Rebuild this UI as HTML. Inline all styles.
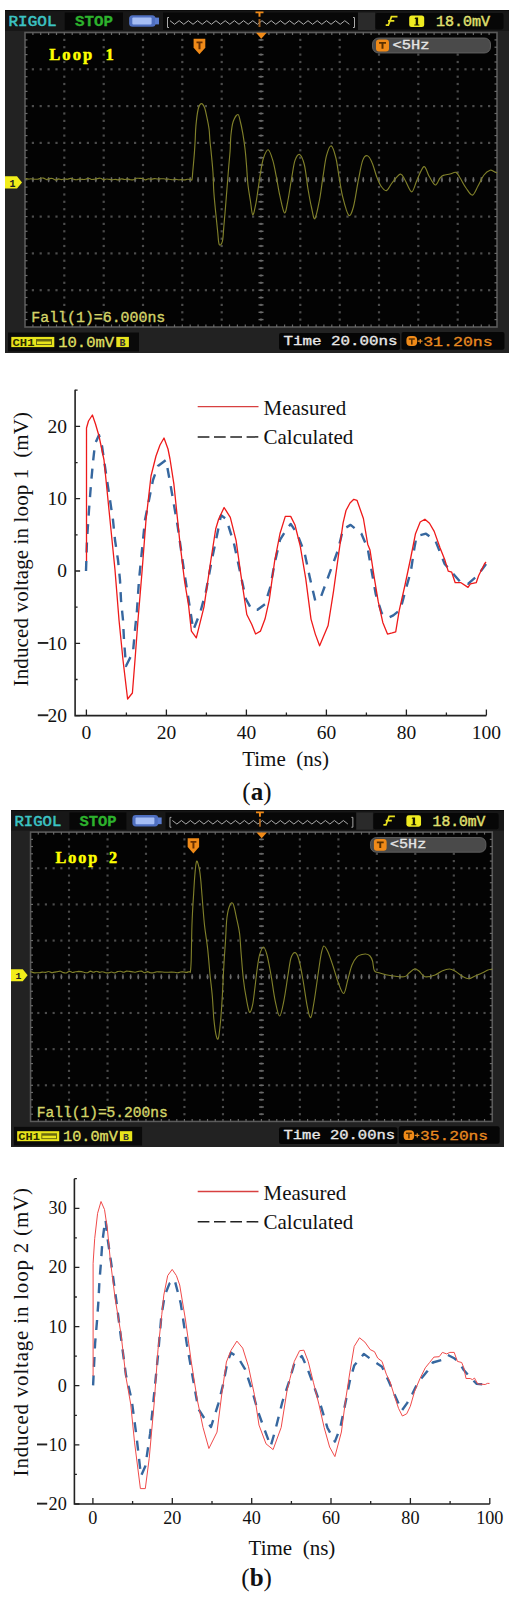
<!DOCTYPE html><html><head><meta charset="utf-8"><style>html,body{margin:0;padding:0;background:#fff;}body{width:514px;height:1601px;position:relative;overflow:hidden;font-family:"Liberation Serif",serif;}</style></head><body><svg style="position:absolute;left:5px;top:10px" width="504" height="343" viewBox="0 0 504 343" preserveAspectRatio="none"><rect x="0" y="0" width="504" height="343" fill="#222"/><rect x="0" y="0" width="504" height="1.5" fill="#0c0c0c"/><rect x="0" y="1.5" width="504" height="19.5" fill="#171717"/><rect x="59.7" y="2.5" width="58.3" height="17.5" fill="#070707"/><rect x="158" y="2.5" width="195" height="17.5" fill="#080808"/><rect x="353" y="2.5" width="17" height="17.5" fill="#2a2a2a"/><rect x="370.5" y="3" width="128" height="16.5" rx="2" fill="#070707"/><text x="3.5" y="16.3" fill="#3cc4c4" stroke="#3cc4c4" stroke-width="0.5" style="font-family:&quot;Liberation Mono&quot;,monospace;font-weight:normal;font-size:14.5px" textLength="48" lengthAdjust="spacingAndGlyphs">RIGOL</text><text x="70" y="16.3" fill="#2db22d" stroke="#2db22d" stroke-width="0.3" style="font-family:&quot;Liberation Mono&quot;,monospace;font-weight:bold;font-size:14.5px" textLength="38" lengthAdjust="spacingAndGlyphs">STOP</text><rect x="124.1" y="5.2" width="26.5" height="11.6" rx="3.5" fill="#4f6fc0"/><rect x="127.3" y="7.6" width="19.3" height="6.8" rx="1" fill="#a6bef5"/><rect x="150" y="7.6" width="4" height="6.8" fill="#5a7cd0"/><path d="M164,7.5 h-1.5 v10 h1.5 M348,7.5 h1.5 v10 h-1.5" stroke="#aaa" stroke-width="1" fill="none"/><polyline points="165.0,10.7 169.6,14.3 174.2,10.7 178.8,14.3 183.4,10.7 188.0,14.3 192.6,10.7 197.2,14.3 201.8,10.7 206.4,14.3 211.0,10.7 215.6,14.3 220.2,10.7 224.8,14.3 229.4,10.7 234.0,14.3 238.6,10.7 243.2,14.3 247.8,10.7 252.4,14.3 257.0,10.7 261.6,14.3 266.2,10.7 270.8,14.3 275.4,10.7 280.0,14.3 284.6,10.7 289.2,14.3 293.8,10.7 298.4,14.3 303.0,10.7 307.6,14.3 312.2,10.7 316.8,14.3 321.4,10.7 326.0,14.3 330.6,10.7 335.2,14.3 339.8,10.7 344.4,14.3" stroke="#b0b0b0" stroke-width="1" fill="none"/><path d="M250.5,1.5 h8 v1.8 h-3 v3.5 h-2 v-3.5 h-3z" fill="#f08a18"/><rect x="253.5" y="9" width="2" height="8" fill="#c07020" opacity="0.8"/><path d="M392.5,6.6 h-6 l-3.2,8.6 h-2.6 M383,10.8 h6.3" stroke="#e8e020" stroke-width="1.8" fill="none"/><rect x="404.2" y="5.4" width="15" height="11.7" rx="2.5" fill="#f0ec20"/><path d="M410.3,7.6 h2.8 v7 h1.2 v1 h-5 v-1 h1.4 v-5.6 h-1.2z" fill="#1a1a00"/><text x="431" y="16" fill="#e0e070" stroke="#e0e070" stroke-width="0.4" style="font-family:&quot;Liberation Mono&quot;,monospace;font-weight:normal;font-size:14px" textLength="54" lengthAdjust="spacingAndGlyphs">18.0mV</text><rect x="20.0" y="22.5" width="472.0" height="294.5" fill="#030303" stroke="#5a5a5a" stroke-width="1.6"/><g fill="#4c4c4c"><rect x="26.8" y="58.2" width="2.2" height="2.2"/><rect x="34.6" y="58.2" width="2.2" height="2.2"/><rect x="42.5" y="58.2" width="2.2" height="2.2"/><rect x="50.4" y="58.2" width="2.2" height="2.2"/><rect x="58.2" y="58.2" width="2.2" height="2.2"/><rect x="66.1" y="58.2" width="2.2" height="2.2"/><rect x="74.0" y="58.2" width="2.2" height="2.2"/><rect x="81.8" y="58.2" width="2.2" height="2.2"/><rect x="89.7" y="58.2" width="2.2" height="2.2"/><rect x="97.6" y="58.2" width="2.2" height="2.2"/><rect x="105.4" y="58.2" width="2.2" height="2.2"/><rect x="113.3" y="58.2" width="2.2" height="2.2"/><rect x="121.2" y="58.2" width="2.2" height="2.2"/><rect x="129.0" y="58.2" width="2.2" height="2.2"/><rect x="136.9" y="58.2" width="2.2" height="2.2"/><rect x="144.8" y="58.2" width="2.2" height="2.2"/><rect x="152.6" y="58.2" width="2.2" height="2.2"/><rect x="160.5" y="58.2" width="2.2" height="2.2"/><rect x="168.4" y="58.2" width="2.2" height="2.2"/><rect x="176.2" y="58.2" width="2.2" height="2.2"/><rect x="184.1" y="58.2" width="2.2" height="2.2"/><rect x="192.0" y="58.2" width="2.2" height="2.2"/><rect x="199.8" y="58.2" width="2.2" height="2.2"/><rect x="207.7" y="58.2" width="2.2" height="2.2"/><rect x="215.6" y="58.2" width="2.2" height="2.2"/><rect x="223.4" y="58.2" width="2.2" height="2.2"/><rect x="231.3" y="58.2" width="2.2" height="2.2"/><rect x="239.2" y="58.2" width="2.2" height="2.2"/><rect x="247.0" y="58.2" width="2.2" height="2.2"/><rect x="254.9" y="58.2" width="2.2" height="2.2"/><rect x="262.8" y="58.2" width="2.2" height="2.2"/><rect x="270.6" y="58.2" width="2.2" height="2.2"/><rect x="278.5" y="58.2" width="2.2" height="2.2"/><rect x="286.4" y="58.2" width="2.2" height="2.2"/><rect x="294.2" y="58.2" width="2.2" height="2.2"/><rect x="302.1" y="58.2" width="2.2" height="2.2"/><rect x="310.0" y="58.2" width="2.2" height="2.2"/><rect x="317.8" y="58.2" width="2.2" height="2.2"/><rect x="325.7" y="58.2" width="2.2" height="2.2"/><rect x="333.6" y="58.2" width="2.2" height="2.2"/><rect x="341.4" y="58.2" width="2.2" height="2.2"/><rect x="349.3" y="58.2" width="2.2" height="2.2"/><rect x="357.2" y="58.2" width="2.2" height="2.2"/><rect x="365.0" y="58.2" width="2.2" height="2.2"/><rect x="372.9" y="58.2" width="2.2" height="2.2"/><rect x="380.8" y="58.2" width="2.2" height="2.2"/><rect x="388.6" y="58.2" width="2.2" height="2.2"/><rect x="396.5" y="58.2" width="2.2" height="2.2"/><rect x="404.4" y="58.2" width="2.2" height="2.2"/><rect x="412.2" y="58.2" width="2.2" height="2.2"/><rect x="420.1" y="58.2" width="2.2" height="2.2"/><rect x="428.0" y="58.2" width="2.2" height="2.2"/><rect x="435.8" y="58.2" width="2.2" height="2.2"/><rect x="443.7" y="58.2" width="2.2" height="2.2"/><rect x="451.6" y="58.2" width="2.2" height="2.2"/><rect x="459.4" y="58.2" width="2.2" height="2.2"/><rect x="467.3" y="58.2" width="2.2" height="2.2"/><rect x="475.2" y="58.2" width="2.2" height="2.2"/><rect x="483.0" y="58.2" width="2.2" height="2.2"/><rect x="26.8" y="95.0" width="2.2" height="2.2"/><rect x="34.6" y="95.0" width="2.2" height="2.2"/><rect x="42.5" y="95.0" width="2.2" height="2.2"/><rect x="50.4" y="95.0" width="2.2" height="2.2"/><rect x="58.2" y="95.0" width="2.2" height="2.2"/><rect x="66.1" y="95.0" width="2.2" height="2.2"/><rect x="74.0" y="95.0" width="2.2" height="2.2"/><rect x="81.8" y="95.0" width="2.2" height="2.2"/><rect x="89.7" y="95.0" width="2.2" height="2.2"/><rect x="97.6" y="95.0" width="2.2" height="2.2"/><rect x="105.4" y="95.0" width="2.2" height="2.2"/><rect x="113.3" y="95.0" width="2.2" height="2.2"/><rect x="121.2" y="95.0" width="2.2" height="2.2"/><rect x="129.0" y="95.0" width="2.2" height="2.2"/><rect x="136.9" y="95.0" width="2.2" height="2.2"/><rect x="144.8" y="95.0" width="2.2" height="2.2"/><rect x="152.6" y="95.0" width="2.2" height="2.2"/><rect x="160.5" y="95.0" width="2.2" height="2.2"/><rect x="168.4" y="95.0" width="2.2" height="2.2"/><rect x="176.2" y="95.0" width="2.2" height="2.2"/><rect x="184.1" y="95.0" width="2.2" height="2.2"/><rect x="192.0" y="95.0" width="2.2" height="2.2"/><rect x="199.8" y="95.0" width="2.2" height="2.2"/><rect x="207.7" y="95.0" width="2.2" height="2.2"/><rect x="215.6" y="95.0" width="2.2" height="2.2"/><rect x="223.4" y="95.0" width="2.2" height="2.2"/><rect x="231.3" y="95.0" width="2.2" height="2.2"/><rect x="239.2" y="95.0" width="2.2" height="2.2"/><rect x="247.0" y="95.0" width="2.2" height="2.2"/><rect x="254.9" y="95.0" width="2.2" height="2.2"/><rect x="262.8" y="95.0" width="2.2" height="2.2"/><rect x="270.6" y="95.0" width="2.2" height="2.2"/><rect x="278.5" y="95.0" width="2.2" height="2.2"/><rect x="286.4" y="95.0" width="2.2" height="2.2"/><rect x="294.2" y="95.0" width="2.2" height="2.2"/><rect x="302.1" y="95.0" width="2.2" height="2.2"/><rect x="310.0" y="95.0" width="2.2" height="2.2"/><rect x="317.8" y="95.0" width="2.2" height="2.2"/><rect x="325.7" y="95.0" width="2.2" height="2.2"/><rect x="333.6" y="95.0" width="2.2" height="2.2"/><rect x="341.4" y="95.0" width="2.2" height="2.2"/><rect x="349.3" y="95.0" width="2.2" height="2.2"/><rect x="357.2" y="95.0" width="2.2" height="2.2"/><rect x="365.0" y="95.0" width="2.2" height="2.2"/><rect x="372.9" y="95.0" width="2.2" height="2.2"/><rect x="380.8" y="95.0" width="2.2" height="2.2"/><rect x="388.6" y="95.0" width="2.2" height="2.2"/><rect x="396.5" y="95.0" width="2.2" height="2.2"/><rect x="404.4" y="95.0" width="2.2" height="2.2"/><rect x="412.2" y="95.0" width="2.2" height="2.2"/><rect x="420.1" y="95.0" width="2.2" height="2.2"/><rect x="428.0" y="95.0" width="2.2" height="2.2"/><rect x="435.8" y="95.0" width="2.2" height="2.2"/><rect x="443.7" y="95.0" width="2.2" height="2.2"/><rect x="451.6" y="95.0" width="2.2" height="2.2"/><rect x="459.4" y="95.0" width="2.2" height="2.2"/><rect x="467.3" y="95.0" width="2.2" height="2.2"/><rect x="475.2" y="95.0" width="2.2" height="2.2"/><rect x="483.0" y="95.0" width="2.2" height="2.2"/><rect x="26.8" y="131.8" width="2.2" height="2.2"/><rect x="34.6" y="131.8" width="2.2" height="2.2"/><rect x="42.5" y="131.8" width="2.2" height="2.2"/><rect x="50.4" y="131.8" width="2.2" height="2.2"/><rect x="58.2" y="131.8" width="2.2" height="2.2"/><rect x="66.1" y="131.8" width="2.2" height="2.2"/><rect x="74.0" y="131.8" width="2.2" height="2.2"/><rect x="81.8" y="131.8" width="2.2" height="2.2"/><rect x="89.7" y="131.8" width="2.2" height="2.2"/><rect x="97.6" y="131.8" width="2.2" height="2.2"/><rect x="105.4" y="131.8" width="2.2" height="2.2"/><rect x="113.3" y="131.8" width="2.2" height="2.2"/><rect x="121.2" y="131.8" width="2.2" height="2.2"/><rect x="129.0" y="131.8" width="2.2" height="2.2"/><rect x="136.9" y="131.8" width="2.2" height="2.2"/><rect x="144.8" y="131.8" width="2.2" height="2.2"/><rect x="152.6" y="131.8" width="2.2" height="2.2"/><rect x="160.5" y="131.8" width="2.2" height="2.2"/><rect x="168.4" y="131.8" width="2.2" height="2.2"/><rect x="176.2" y="131.8" width="2.2" height="2.2"/><rect x="184.1" y="131.8" width="2.2" height="2.2"/><rect x="192.0" y="131.8" width="2.2" height="2.2"/><rect x="199.8" y="131.8" width="2.2" height="2.2"/><rect x="207.7" y="131.8" width="2.2" height="2.2"/><rect x="215.6" y="131.8" width="2.2" height="2.2"/><rect x="223.4" y="131.8" width="2.2" height="2.2"/><rect x="231.3" y="131.8" width="2.2" height="2.2"/><rect x="239.2" y="131.8" width="2.2" height="2.2"/><rect x="247.0" y="131.8" width="2.2" height="2.2"/><rect x="254.9" y="131.8" width="2.2" height="2.2"/><rect x="262.8" y="131.8" width="2.2" height="2.2"/><rect x="270.6" y="131.8" width="2.2" height="2.2"/><rect x="278.5" y="131.8" width="2.2" height="2.2"/><rect x="286.4" y="131.8" width="2.2" height="2.2"/><rect x="294.2" y="131.8" width="2.2" height="2.2"/><rect x="302.1" y="131.8" width="2.2" height="2.2"/><rect x="310.0" y="131.8" width="2.2" height="2.2"/><rect x="317.8" y="131.8" width="2.2" height="2.2"/><rect x="325.7" y="131.8" width="2.2" height="2.2"/><rect x="333.6" y="131.8" width="2.2" height="2.2"/><rect x="341.4" y="131.8" width="2.2" height="2.2"/><rect x="349.3" y="131.8" width="2.2" height="2.2"/><rect x="357.2" y="131.8" width="2.2" height="2.2"/><rect x="365.0" y="131.8" width="2.2" height="2.2"/><rect x="372.9" y="131.8" width="2.2" height="2.2"/><rect x="380.8" y="131.8" width="2.2" height="2.2"/><rect x="388.6" y="131.8" width="2.2" height="2.2"/><rect x="396.5" y="131.8" width="2.2" height="2.2"/><rect x="404.4" y="131.8" width="2.2" height="2.2"/><rect x="412.2" y="131.8" width="2.2" height="2.2"/><rect x="420.1" y="131.8" width="2.2" height="2.2"/><rect x="428.0" y="131.8" width="2.2" height="2.2"/><rect x="435.8" y="131.8" width="2.2" height="2.2"/><rect x="443.7" y="131.8" width="2.2" height="2.2"/><rect x="451.6" y="131.8" width="2.2" height="2.2"/><rect x="459.4" y="131.8" width="2.2" height="2.2"/><rect x="467.3" y="131.8" width="2.2" height="2.2"/><rect x="475.2" y="131.8" width="2.2" height="2.2"/><rect x="483.0" y="131.8" width="2.2" height="2.2"/><rect x="26.8" y="168.7" width="2.2" height="2.2"/><rect x="34.6" y="168.7" width="2.2" height="2.2"/><rect x="42.5" y="168.7" width="2.2" height="2.2"/><rect x="50.4" y="168.7" width="2.2" height="2.2"/><rect x="58.2" y="168.7" width="2.2" height="2.2"/><rect x="66.1" y="168.7" width="2.2" height="2.2"/><rect x="74.0" y="168.7" width="2.2" height="2.2"/><rect x="81.8" y="168.7" width="2.2" height="2.2"/><rect x="89.7" y="168.7" width="2.2" height="2.2"/><rect x="97.6" y="168.7" width="2.2" height="2.2"/><rect x="105.4" y="168.7" width="2.2" height="2.2"/><rect x="113.3" y="168.7" width="2.2" height="2.2"/><rect x="121.2" y="168.7" width="2.2" height="2.2"/><rect x="129.0" y="168.7" width="2.2" height="2.2"/><rect x="136.9" y="168.7" width="2.2" height="2.2"/><rect x="144.8" y="168.7" width="2.2" height="2.2"/><rect x="152.6" y="168.7" width="2.2" height="2.2"/><rect x="160.5" y="168.7" width="2.2" height="2.2"/><rect x="168.4" y="168.7" width="2.2" height="2.2"/><rect x="176.2" y="168.7" width="2.2" height="2.2"/><rect x="184.1" y="168.7" width="2.2" height="2.2"/><rect x="192.0" y="168.7" width="2.2" height="2.2"/><rect x="199.8" y="168.7" width="2.2" height="2.2"/><rect x="207.7" y="168.7" width="2.2" height="2.2"/><rect x="215.6" y="168.7" width="2.2" height="2.2"/><rect x="223.4" y="168.7" width="2.2" height="2.2"/><rect x="231.3" y="168.7" width="2.2" height="2.2"/><rect x="239.2" y="168.7" width="2.2" height="2.2"/><rect x="247.0" y="168.7" width="2.2" height="2.2"/><rect x="254.9" y="168.7" width="2.2" height="2.2"/><rect x="262.8" y="168.7" width="2.2" height="2.2"/><rect x="270.6" y="168.7" width="2.2" height="2.2"/><rect x="278.5" y="168.7" width="2.2" height="2.2"/><rect x="286.4" y="168.7" width="2.2" height="2.2"/><rect x="294.2" y="168.7" width="2.2" height="2.2"/><rect x="302.1" y="168.7" width="2.2" height="2.2"/><rect x="310.0" y="168.7" width="2.2" height="2.2"/><rect x="317.8" y="168.7" width="2.2" height="2.2"/><rect x="325.7" y="168.7" width="2.2" height="2.2"/><rect x="333.6" y="168.7" width="2.2" height="2.2"/><rect x="341.4" y="168.7" width="2.2" height="2.2"/><rect x="349.3" y="168.7" width="2.2" height="2.2"/><rect x="357.2" y="168.7" width="2.2" height="2.2"/><rect x="365.0" y="168.7" width="2.2" height="2.2"/><rect x="372.9" y="168.7" width="2.2" height="2.2"/><rect x="380.8" y="168.7" width="2.2" height="2.2"/><rect x="388.6" y="168.7" width="2.2" height="2.2"/><rect x="396.5" y="168.7" width="2.2" height="2.2"/><rect x="404.4" y="168.7" width="2.2" height="2.2"/><rect x="412.2" y="168.7" width="2.2" height="2.2"/><rect x="420.1" y="168.7" width="2.2" height="2.2"/><rect x="428.0" y="168.7" width="2.2" height="2.2"/><rect x="435.8" y="168.7" width="2.2" height="2.2"/><rect x="443.7" y="168.7" width="2.2" height="2.2"/><rect x="451.6" y="168.7" width="2.2" height="2.2"/><rect x="459.4" y="168.7" width="2.2" height="2.2"/><rect x="467.3" y="168.7" width="2.2" height="2.2"/><rect x="475.2" y="168.7" width="2.2" height="2.2"/><rect x="483.0" y="168.7" width="2.2" height="2.2"/><rect x="26.8" y="205.5" width="2.2" height="2.2"/><rect x="34.6" y="205.5" width="2.2" height="2.2"/><rect x="42.5" y="205.5" width="2.2" height="2.2"/><rect x="50.4" y="205.5" width="2.2" height="2.2"/><rect x="58.2" y="205.5" width="2.2" height="2.2"/><rect x="66.1" y="205.5" width="2.2" height="2.2"/><rect x="74.0" y="205.5" width="2.2" height="2.2"/><rect x="81.8" y="205.5" width="2.2" height="2.2"/><rect x="89.7" y="205.5" width="2.2" height="2.2"/><rect x="97.6" y="205.5" width="2.2" height="2.2"/><rect x="105.4" y="205.5" width="2.2" height="2.2"/><rect x="113.3" y="205.5" width="2.2" height="2.2"/><rect x="121.2" y="205.5" width="2.2" height="2.2"/><rect x="129.0" y="205.5" width="2.2" height="2.2"/><rect x="136.9" y="205.5" width="2.2" height="2.2"/><rect x="144.8" y="205.5" width="2.2" height="2.2"/><rect x="152.6" y="205.5" width="2.2" height="2.2"/><rect x="160.5" y="205.5" width="2.2" height="2.2"/><rect x="168.4" y="205.5" width="2.2" height="2.2"/><rect x="176.2" y="205.5" width="2.2" height="2.2"/><rect x="184.1" y="205.5" width="2.2" height="2.2"/><rect x="192.0" y="205.5" width="2.2" height="2.2"/><rect x="199.8" y="205.5" width="2.2" height="2.2"/><rect x="207.7" y="205.5" width="2.2" height="2.2"/><rect x="215.6" y="205.5" width="2.2" height="2.2"/><rect x="223.4" y="205.5" width="2.2" height="2.2"/><rect x="231.3" y="205.5" width="2.2" height="2.2"/><rect x="239.2" y="205.5" width="2.2" height="2.2"/><rect x="247.0" y="205.5" width="2.2" height="2.2"/><rect x="254.9" y="205.5" width="2.2" height="2.2"/><rect x="262.8" y="205.5" width="2.2" height="2.2"/><rect x="270.6" y="205.5" width="2.2" height="2.2"/><rect x="278.5" y="205.5" width="2.2" height="2.2"/><rect x="286.4" y="205.5" width="2.2" height="2.2"/><rect x="294.2" y="205.5" width="2.2" height="2.2"/><rect x="302.1" y="205.5" width="2.2" height="2.2"/><rect x="310.0" y="205.5" width="2.2" height="2.2"/><rect x="317.8" y="205.5" width="2.2" height="2.2"/><rect x="325.7" y="205.5" width="2.2" height="2.2"/><rect x="333.6" y="205.5" width="2.2" height="2.2"/><rect x="341.4" y="205.5" width="2.2" height="2.2"/><rect x="349.3" y="205.5" width="2.2" height="2.2"/><rect x="357.2" y="205.5" width="2.2" height="2.2"/><rect x="365.0" y="205.5" width="2.2" height="2.2"/><rect x="372.9" y="205.5" width="2.2" height="2.2"/><rect x="380.8" y="205.5" width="2.2" height="2.2"/><rect x="388.6" y="205.5" width="2.2" height="2.2"/><rect x="396.5" y="205.5" width="2.2" height="2.2"/><rect x="404.4" y="205.5" width="2.2" height="2.2"/><rect x="412.2" y="205.5" width="2.2" height="2.2"/><rect x="420.1" y="205.5" width="2.2" height="2.2"/><rect x="428.0" y="205.5" width="2.2" height="2.2"/><rect x="435.8" y="205.5" width="2.2" height="2.2"/><rect x="443.7" y="205.5" width="2.2" height="2.2"/><rect x="451.6" y="205.5" width="2.2" height="2.2"/><rect x="459.4" y="205.5" width="2.2" height="2.2"/><rect x="467.3" y="205.5" width="2.2" height="2.2"/><rect x="475.2" y="205.5" width="2.2" height="2.2"/><rect x="483.0" y="205.5" width="2.2" height="2.2"/><rect x="26.8" y="242.3" width="2.2" height="2.2"/><rect x="34.6" y="242.3" width="2.2" height="2.2"/><rect x="42.5" y="242.3" width="2.2" height="2.2"/><rect x="50.4" y="242.3" width="2.2" height="2.2"/><rect x="58.2" y="242.3" width="2.2" height="2.2"/><rect x="66.1" y="242.3" width="2.2" height="2.2"/><rect x="74.0" y="242.3" width="2.2" height="2.2"/><rect x="81.8" y="242.3" width="2.2" height="2.2"/><rect x="89.7" y="242.3" width="2.2" height="2.2"/><rect x="97.6" y="242.3" width="2.2" height="2.2"/><rect x="105.4" y="242.3" width="2.2" height="2.2"/><rect x="113.3" y="242.3" width="2.2" height="2.2"/><rect x="121.2" y="242.3" width="2.2" height="2.2"/><rect x="129.0" y="242.3" width="2.2" height="2.2"/><rect x="136.9" y="242.3" width="2.2" height="2.2"/><rect x="144.8" y="242.3" width="2.2" height="2.2"/><rect x="152.6" y="242.3" width="2.2" height="2.2"/><rect x="160.5" y="242.3" width="2.2" height="2.2"/><rect x="168.4" y="242.3" width="2.2" height="2.2"/><rect x="176.2" y="242.3" width="2.2" height="2.2"/><rect x="184.1" y="242.3" width="2.2" height="2.2"/><rect x="192.0" y="242.3" width="2.2" height="2.2"/><rect x="199.8" y="242.3" width="2.2" height="2.2"/><rect x="207.7" y="242.3" width="2.2" height="2.2"/><rect x="215.6" y="242.3" width="2.2" height="2.2"/><rect x="223.4" y="242.3" width="2.2" height="2.2"/><rect x="231.3" y="242.3" width="2.2" height="2.2"/><rect x="239.2" y="242.3" width="2.2" height="2.2"/><rect x="247.0" y="242.3" width="2.2" height="2.2"/><rect x="254.9" y="242.3" width="2.2" height="2.2"/><rect x="262.8" y="242.3" width="2.2" height="2.2"/><rect x="270.6" y="242.3" width="2.2" height="2.2"/><rect x="278.5" y="242.3" width="2.2" height="2.2"/><rect x="286.4" y="242.3" width="2.2" height="2.2"/><rect x="294.2" y="242.3" width="2.2" height="2.2"/><rect x="302.1" y="242.3" width="2.2" height="2.2"/><rect x="310.0" y="242.3" width="2.2" height="2.2"/><rect x="317.8" y="242.3" width="2.2" height="2.2"/><rect x="325.7" y="242.3" width="2.2" height="2.2"/><rect x="333.6" y="242.3" width="2.2" height="2.2"/><rect x="341.4" y="242.3" width="2.2" height="2.2"/><rect x="349.3" y="242.3" width="2.2" height="2.2"/><rect x="357.2" y="242.3" width="2.2" height="2.2"/><rect x="365.0" y="242.3" width="2.2" height="2.2"/><rect x="372.9" y="242.3" width="2.2" height="2.2"/><rect x="380.8" y="242.3" width="2.2" height="2.2"/><rect x="388.6" y="242.3" width="2.2" height="2.2"/><rect x="396.5" y="242.3" width="2.2" height="2.2"/><rect x="404.4" y="242.3" width="2.2" height="2.2"/><rect x="412.2" y="242.3" width="2.2" height="2.2"/><rect x="420.1" y="242.3" width="2.2" height="2.2"/><rect x="428.0" y="242.3" width="2.2" height="2.2"/><rect x="435.8" y="242.3" width="2.2" height="2.2"/><rect x="443.7" y="242.3" width="2.2" height="2.2"/><rect x="451.6" y="242.3" width="2.2" height="2.2"/><rect x="459.4" y="242.3" width="2.2" height="2.2"/><rect x="467.3" y="242.3" width="2.2" height="2.2"/><rect x="475.2" y="242.3" width="2.2" height="2.2"/><rect x="483.0" y="242.3" width="2.2" height="2.2"/><rect x="26.8" y="279.1" width="2.2" height="2.2"/><rect x="34.6" y="279.1" width="2.2" height="2.2"/><rect x="42.5" y="279.1" width="2.2" height="2.2"/><rect x="50.4" y="279.1" width="2.2" height="2.2"/><rect x="58.2" y="279.1" width="2.2" height="2.2"/><rect x="66.1" y="279.1" width="2.2" height="2.2"/><rect x="74.0" y="279.1" width="2.2" height="2.2"/><rect x="81.8" y="279.1" width="2.2" height="2.2"/><rect x="89.7" y="279.1" width="2.2" height="2.2"/><rect x="97.6" y="279.1" width="2.2" height="2.2"/><rect x="105.4" y="279.1" width="2.2" height="2.2"/><rect x="113.3" y="279.1" width="2.2" height="2.2"/><rect x="121.2" y="279.1" width="2.2" height="2.2"/><rect x="129.0" y="279.1" width="2.2" height="2.2"/><rect x="136.9" y="279.1" width="2.2" height="2.2"/><rect x="144.8" y="279.1" width="2.2" height="2.2"/><rect x="152.6" y="279.1" width="2.2" height="2.2"/><rect x="160.5" y="279.1" width="2.2" height="2.2"/><rect x="168.4" y="279.1" width="2.2" height="2.2"/><rect x="176.2" y="279.1" width="2.2" height="2.2"/><rect x="184.1" y="279.1" width="2.2" height="2.2"/><rect x="192.0" y="279.1" width="2.2" height="2.2"/><rect x="199.8" y="279.1" width="2.2" height="2.2"/><rect x="207.7" y="279.1" width="2.2" height="2.2"/><rect x="215.6" y="279.1" width="2.2" height="2.2"/><rect x="223.4" y="279.1" width="2.2" height="2.2"/><rect x="231.3" y="279.1" width="2.2" height="2.2"/><rect x="239.2" y="279.1" width="2.2" height="2.2"/><rect x="247.0" y="279.1" width="2.2" height="2.2"/><rect x="254.9" y="279.1" width="2.2" height="2.2"/><rect x="262.8" y="279.1" width="2.2" height="2.2"/><rect x="270.6" y="279.1" width="2.2" height="2.2"/><rect x="278.5" y="279.1" width="2.2" height="2.2"/><rect x="286.4" y="279.1" width="2.2" height="2.2"/><rect x="294.2" y="279.1" width="2.2" height="2.2"/><rect x="302.1" y="279.1" width="2.2" height="2.2"/><rect x="310.0" y="279.1" width="2.2" height="2.2"/><rect x="317.8" y="279.1" width="2.2" height="2.2"/><rect x="325.7" y="279.1" width="2.2" height="2.2"/><rect x="333.6" y="279.1" width="2.2" height="2.2"/><rect x="341.4" y="279.1" width="2.2" height="2.2"/><rect x="349.3" y="279.1" width="2.2" height="2.2"/><rect x="357.2" y="279.1" width="2.2" height="2.2"/><rect x="365.0" y="279.1" width="2.2" height="2.2"/><rect x="372.9" y="279.1" width="2.2" height="2.2"/><rect x="380.8" y="279.1" width="2.2" height="2.2"/><rect x="388.6" y="279.1" width="2.2" height="2.2"/><rect x="396.5" y="279.1" width="2.2" height="2.2"/><rect x="404.4" y="279.1" width="2.2" height="2.2"/><rect x="412.2" y="279.1" width="2.2" height="2.2"/><rect x="420.1" y="279.1" width="2.2" height="2.2"/><rect x="428.0" y="279.1" width="2.2" height="2.2"/><rect x="435.8" y="279.1" width="2.2" height="2.2"/><rect x="443.7" y="279.1" width="2.2" height="2.2"/><rect x="451.6" y="279.1" width="2.2" height="2.2"/><rect x="459.4" y="279.1" width="2.2" height="2.2"/><rect x="467.3" y="279.1" width="2.2" height="2.2"/><rect x="475.2" y="279.1" width="2.2" height="2.2"/><rect x="483.0" y="279.1" width="2.2" height="2.2"/><rect x="58.2" y="28.8" width="2.2" height="2.2"/><rect x="58.2" y="36.1" width="2.2" height="2.2"/><rect x="58.2" y="43.5" width="2.2" height="2.2"/><rect x="58.2" y="50.9" width="2.2" height="2.2"/><rect x="58.2" y="65.6" width="2.2" height="2.2"/><rect x="58.2" y="72.9" width="2.2" height="2.2"/><rect x="58.2" y="80.3" width="2.2" height="2.2"/><rect x="58.2" y="87.7" width="2.2" height="2.2"/><rect x="58.2" y="102.4" width="2.2" height="2.2"/><rect x="58.2" y="109.8" width="2.2" height="2.2"/><rect x="58.2" y="117.1" width="2.2" height="2.2"/><rect x="58.2" y="124.5" width="2.2" height="2.2"/><rect x="58.2" y="139.2" width="2.2" height="2.2"/><rect x="58.2" y="146.6" width="2.2" height="2.2"/><rect x="58.2" y="153.9" width="2.2" height="2.2"/><rect x="58.2" y="161.3" width="2.2" height="2.2"/><rect x="58.2" y="176.0" width="2.2" height="2.2"/><rect x="58.2" y="183.4" width="2.2" height="2.2"/><rect x="58.2" y="190.7" width="2.2" height="2.2"/><rect x="58.2" y="198.1" width="2.2" height="2.2"/><rect x="58.2" y="212.8" width="2.2" height="2.2"/><rect x="58.2" y="220.2" width="2.2" height="2.2"/><rect x="58.2" y="227.6" width="2.2" height="2.2"/><rect x="58.2" y="234.9" width="2.2" height="2.2"/><rect x="58.2" y="249.6" width="2.2" height="2.2"/><rect x="58.2" y="257.0" width="2.2" height="2.2"/><rect x="58.2" y="264.4" width="2.2" height="2.2"/><rect x="58.2" y="271.7" width="2.2" height="2.2"/><rect x="58.2" y="286.4" width="2.2" height="2.2"/><rect x="58.2" y="293.8" width="2.2" height="2.2"/><rect x="58.2" y="301.2" width="2.2" height="2.2"/><rect x="58.2" y="308.5" width="2.2" height="2.2"/><rect x="97.6" y="28.8" width="2.2" height="2.2"/><rect x="97.6" y="36.1" width="2.2" height="2.2"/><rect x="97.6" y="43.5" width="2.2" height="2.2"/><rect x="97.6" y="50.9" width="2.2" height="2.2"/><rect x="97.6" y="65.6" width="2.2" height="2.2"/><rect x="97.6" y="72.9" width="2.2" height="2.2"/><rect x="97.6" y="80.3" width="2.2" height="2.2"/><rect x="97.6" y="87.7" width="2.2" height="2.2"/><rect x="97.6" y="102.4" width="2.2" height="2.2"/><rect x="97.6" y="109.8" width="2.2" height="2.2"/><rect x="97.6" y="117.1" width="2.2" height="2.2"/><rect x="97.6" y="124.5" width="2.2" height="2.2"/><rect x="97.6" y="139.2" width="2.2" height="2.2"/><rect x="97.6" y="146.6" width="2.2" height="2.2"/><rect x="97.6" y="153.9" width="2.2" height="2.2"/><rect x="97.6" y="161.3" width="2.2" height="2.2"/><rect x="97.6" y="176.0" width="2.2" height="2.2"/><rect x="97.6" y="183.4" width="2.2" height="2.2"/><rect x="97.6" y="190.7" width="2.2" height="2.2"/><rect x="97.6" y="198.1" width="2.2" height="2.2"/><rect x="97.6" y="212.8" width="2.2" height="2.2"/><rect x="97.6" y="220.2" width="2.2" height="2.2"/><rect x="97.6" y="227.6" width="2.2" height="2.2"/><rect x="97.6" y="234.9" width="2.2" height="2.2"/><rect x="97.6" y="249.6" width="2.2" height="2.2"/><rect x="97.6" y="257.0" width="2.2" height="2.2"/><rect x="97.6" y="264.4" width="2.2" height="2.2"/><rect x="97.6" y="271.7" width="2.2" height="2.2"/><rect x="97.6" y="286.4" width="2.2" height="2.2"/><rect x="97.6" y="293.8" width="2.2" height="2.2"/><rect x="97.6" y="301.2" width="2.2" height="2.2"/><rect x="97.6" y="308.5" width="2.2" height="2.2"/><rect x="136.9" y="28.8" width="2.2" height="2.2"/><rect x="136.9" y="36.1" width="2.2" height="2.2"/><rect x="136.9" y="43.5" width="2.2" height="2.2"/><rect x="136.9" y="50.9" width="2.2" height="2.2"/><rect x="136.9" y="65.6" width="2.2" height="2.2"/><rect x="136.9" y="72.9" width="2.2" height="2.2"/><rect x="136.9" y="80.3" width="2.2" height="2.2"/><rect x="136.9" y="87.7" width="2.2" height="2.2"/><rect x="136.9" y="102.4" width="2.2" height="2.2"/><rect x="136.9" y="109.8" width="2.2" height="2.2"/><rect x="136.9" y="117.1" width="2.2" height="2.2"/><rect x="136.9" y="124.5" width="2.2" height="2.2"/><rect x="136.9" y="139.2" width="2.2" height="2.2"/><rect x="136.9" y="146.6" width="2.2" height="2.2"/><rect x="136.9" y="153.9" width="2.2" height="2.2"/><rect x="136.9" y="161.3" width="2.2" height="2.2"/><rect x="136.9" y="176.0" width="2.2" height="2.2"/><rect x="136.9" y="183.4" width="2.2" height="2.2"/><rect x="136.9" y="190.7" width="2.2" height="2.2"/><rect x="136.9" y="198.1" width="2.2" height="2.2"/><rect x="136.9" y="212.8" width="2.2" height="2.2"/><rect x="136.9" y="220.2" width="2.2" height="2.2"/><rect x="136.9" y="227.6" width="2.2" height="2.2"/><rect x="136.9" y="234.9" width="2.2" height="2.2"/><rect x="136.9" y="249.6" width="2.2" height="2.2"/><rect x="136.9" y="257.0" width="2.2" height="2.2"/><rect x="136.9" y="264.4" width="2.2" height="2.2"/><rect x="136.9" y="271.7" width="2.2" height="2.2"/><rect x="136.9" y="286.4" width="2.2" height="2.2"/><rect x="136.9" y="293.8" width="2.2" height="2.2"/><rect x="136.9" y="301.2" width="2.2" height="2.2"/><rect x="136.9" y="308.5" width="2.2" height="2.2"/><rect x="176.2" y="28.8" width="2.2" height="2.2"/><rect x="176.2" y="36.1" width="2.2" height="2.2"/><rect x="176.2" y="43.5" width="2.2" height="2.2"/><rect x="176.2" y="50.9" width="2.2" height="2.2"/><rect x="176.2" y="65.6" width="2.2" height="2.2"/><rect x="176.2" y="72.9" width="2.2" height="2.2"/><rect x="176.2" y="80.3" width="2.2" height="2.2"/><rect x="176.2" y="87.7" width="2.2" height="2.2"/><rect x="176.2" y="102.4" width="2.2" height="2.2"/><rect x="176.2" y="109.8" width="2.2" height="2.2"/><rect x="176.2" y="117.1" width="2.2" height="2.2"/><rect x="176.2" y="124.5" width="2.2" height="2.2"/><rect x="176.2" y="139.2" width="2.2" height="2.2"/><rect x="176.2" y="146.6" width="2.2" height="2.2"/><rect x="176.2" y="153.9" width="2.2" height="2.2"/><rect x="176.2" y="161.3" width="2.2" height="2.2"/><rect x="176.2" y="176.0" width="2.2" height="2.2"/><rect x="176.2" y="183.4" width="2.2" height="2.2"/><rect x="176.2" y="190.7" width="2.2" height="2.2"/><rect x="176.2" y="198.1" width="2.2" height="2.2"/><rect x="176.2" y="212.8" width="2.2" height="2.2"/><rect x="176.2" y="220.2" width="2.2" height="2.2"/><rect x="176.2" y="227.6" width="2.2" height="2.2"/><rect x="176.2" y="234.9" width="2.2" height="2.2"/><rect x="176.2" y="249.6" width="2.2" height="2.2"/><rect x="176.2" y="257.0" width="2.2" height="2.2"/><rect x="176.2" y="264.4" width="2.2" height="2.2"/><rect x="176.2" y="271.7" width="2.2" height="2.2"/><rect x="176.2" y="286.4" width="2.2" height="2.2"/><rect x="176.2" y="293.8" width="2.2" height="2.2"/><rect x="176.2" y="301.2" width="2.2" height="2.2"/><rect x="176.2" y="308.5" width="2.2" height="2.2"/><rect x="215.6" y="28.8" width="2.2" height="2.2"/><rect x="215.6" y="36.1" width="2.2" height="2.2"/><rect x="215.6" y="43.5" width="2.2" height="2.2"/><rect x="215.6" y="50.9" width="2.2" height="2.2"/><rect x="215.6" y="65.6" width="2.2" height="2.2"/><rect x="215.6" y="72.9" width="2.2" height="2.2"/><rect x="215.6" y="80.3" width="2.2" height="2.2"/><rect x="215.6" y="87.7" width="2.2" height="2.2"/><rect x="215.6" y="102.4" width="2.2" height="2.2"/><rect x="215.6" y="109.8" width="2.2" height="2.2"/><rect x="215.6" y="117.1" width="2.2" height="2.2"/><rect x="215.6" y="124.5" width="2.2" height="2.2"/><rect x="215.6" y="139.2" width="2.2" height="2.2"/><rect x="215.6" y="146.6" width="2.2" height="2.2"/><rect x="215.6" y="153.9" width="2.2" height="2.2"/><rect x="215.6" y="161.3" width="2.2" height="2.2"/><rect x="215.6" y="176.0" width="2.2" height="2.2"/><rect x="215.6" y="183.4" width="2.2" height="2.2"/><rect x="215.6" y="190.7" width="2.2" height="2.2"/><rect x="215.6" y="198.1" width="2.2" height="2.2"/><rect x="215.6" y="212.8" width="2.2" height="2.2"/><rect x="215.6" y="220.2" width="2.2" height="2.2"/><rect x="215.6" y="227.6" width="2.2" height="2.2"/><rect x="215.6" y="234.9" width="2.2" height="2.2"/><rect x="215.6" y="249.6" width="2.2" height="2.2"/><rect x="215.6" y="257.0" width="2.2" height="2.2"/><rect x="215.6" y="264.4" width="2.2" height="2.2"/><rect x="215.6" y="271.7" width="2.2" height="2.2"/><rect x="215.6" y="286.4" width="2.2" height="2.2"/><rect x="215.6" y="293.8" width="2.2" height="2.2"/><rect x="215.6" y="301.2" width="2.2" height="2.2"/><rect x="215.6" y="308.5" width="2.2" height="2.2"/><rect x="254.9" y="28.8" width="2.2" height="2.2"/><rect x="254.9" y="36.1" width="2.2" height="2.2"/><rect x="254.9" y="43.5" width="2.2" height="2.2"/><rect x="254.9" y="50.9" width="2.2" height="2.2"/><rect x="254.9" y="65.6" width="2.2" height="2.2"/><rect x="254.9" y="72.9" width="2.2" height="2.2"/><rect x="254.9" y="80.3" width="2.2" height="2.2"/><rect x="254.9" y="87.7" width="2.2" height="2.2"/><rect x="254.9" y="102.4" width="2.2" height="2.2"/><rect x="254.9" y="109.8" width="2.2" height="2.2"/><rect x="254.9" y="117.1" width="2.2" height="2.2"/><rect x="254.9" y="124.5" width="2.2" height="2.2"/><rect x="254.9" y="139.2" width="2.2" height="2.2"/><rect x="254.9" y="146.6" width="2.2" height="2.2"/><rect x="254.9" y="153.9" width="2.2" height="2.2"/><rect x="254.9" y="161.3" width="2.2" height="2.2"/><rect x="254.9" y="176.0" width="2.2" height="2.2"/><rect x="254.9" y="183.4" width="2.2" height="2.2"/><rect x="254.9" y="190.7" width="2.2" height="2.2"/><rect x="254.9" y="198.1" width="2.2" height="2.2"/><rect x="254.9" y="212.8" width="2.2" height="2.2"/><rect x="254.9" y="220.2" width="2.2" height="2.2"/><rect x="254.9" y="227.6" width="2.2" height="2.2"/><rect x="254.9" y="234.9" width="2.2" height="2.2"/><rect x="254.9" y="249.6" width="2.2" height="2.2"/><rect x="254.9" y="257.0" width="2.2" height="2.2"/><rect x="254.9" y="264.4" width="2.2" height="2.2"/><rect x="254.9" y="271.7" width="2.2" height="2.2"/><rect x="254.9" y="286.4" width="2.2" height="2.2"/><rect x="254.9" y="293.8" width="2.2" height="2.2"/><rect x="254.9" y="301.2" width="2.2" height="2.2"/><rect x="254.9" y="308.5" width="2.2" height="2.2"/><rect x="294.2" y="28.8" width="2.2" height="2.2"/><rect x="294.2" y="36.1" width="2.2" height="2.2"/><rect x="294.2" y="43.5" width="2.2" height="2.2"/><rect x="294.2" y="50.9" width="2.2" height="2.2"/><rect x="294.2" y="65.6" width="2.2" height="2.2"/><rect x="294.2" y="72.9" width="2.2" height="2.2"/><rect x="294.2" y="80.3" width="2.2" height="2.2"/><rect x="294.2" y="87.7" width="2.2" height="2.2"/><rect x="294.2" y="102.4" width="2.2" height="2.2"/><rect x="294.2" y="109.8" width="2.2" height="2.2"/><rect x="294.2" y="117.1" width="2.2" height="2.2"/><rect x="294.2" y="124.5" width="2.2" height="2.2"/><rect x="294.2" y="139.2" width="2.2" height="2.2"/><rect x="294.2" y="146.6" width="2.2" height="2.2"/><rect x="294.2" y="153.9" width="2.2" height="2.2"/><rect x="294.2" y="161.3" width="2.2" height="2.2"/><rect x="294.2" y="176.0" width="2.2" height="2.2"/><rect x="294.2" y="183.4" width="2.2" height="2.2"/><rect x="294.2" y="190.7" width="2.2" height="2.2"/><rect x="294.2" y="198.1" width="2.2" height="2.2"/><rect x="294.2" y="212.8" width="2.2" height="2.2"/><rect x="294.2" y="220.2" width="2.2" height="2.2"/><rect x="294.2" y="227.6" width="2.2" height="2.2"/><rect x="294.2" y="234.9" width="2.2" height="2.2"/><rect x="294.2" y="249.6" width="2.2" height="2.2"/><rect x="294.2" y="257.0" width="2.2" height="2.2"/><rect x="294.2" y="264.4" width="2.2" height="2.2"/><rect x="294.2" y="271.7" width="2.2" height="2.2"/><rect x="294.2" y="286.4" width="2.2" height="2.2"/><rect x="294.2" y="293.8" width="2.2" height="2.2"/><rect x="294.2" y="301.2" width="2.2" height="2.2"/><rect x="294.2" y="308.5" width="2.2" height="2.2"/><rect x="333.6" y="28.8" width="2.2" height="2.2"/><rect x="333.6" y="36.1" width="2.2" height="2.2"/><rect x="333.6" y="43.5" width="2.2" height="2.2"/><rect x="333.6" y="50.9" width="2.2" height="2.2"/><rect x="333.6" y="65.6" width="2.2" height="2.2"/><rect x="333.6" y="72.9" width="2.2" height="2.2"/><rect x="333.6" y="80.3" width="2.2" height="2.2"/><rect x="333.6" y="87.7" width="2.2" height="2.2"/><rect x="333.6" y="102.4" width="2.2" height="2.2"/><rect x="333.6" y="109.8" width="2.2" height="2.2"/><rect x="333.6" y="117.1" width="2.2" height="2.2"/><rect x="333.6" y="124.5" width="2.2" height="2.2"/><rect x="333.6" y="139.2" width="2.2" height="2.2"/><rect x="333.6" y="146.6" width="2.2" height="2.2"/><rect x="333.6" y="153.9" width="2.2" height="2.2"/><rect x="333.6" y="161.3" width="2.2" height="2.2"/><rect x="333.6" y="176.0" width="2.2" height="2.2"/><rect x="333.6" y="183.4" width="2.2" height="2.2"/><rect x="333.6" y="190.7" width="2.2" height="2.2"/><rect x="333.6" y="198.1" width="2.2" height="2.2"/><rect x="333.6" y="212.8" width="2.2" height="2.2"/><rect x="333.6" y="220.2" width="2.2" height="2.2"/><rect x="333.6" y="227.6" width="2.2" height="2.2"/><rect x="333.6" y="234.9" width="2.2" height="2.2"/><rect x="333.6" y="249.6" width="2.2" height="2.2"/><rect x="333.6" y="257.0" width="2.2" height="2.2"/><rect x="333.6" y="264.4" width="2.2" height="2.2"/><rect x="333.6" y="271.7" width="2.2" height="2.2"/><rect x="333.6" y="286.4" width="2.2" height="2.2"/><rect x="333.6" y="293.8" width="2.2" height="2.2"/><rect x="333.6" y="301.2" width="2.2" height="2.2"/><rect x="333.6" y="308.5" width="2.2" height="2.2"/><rect x="372.9" y="28.8" width="2.2" height="2.2"/><rect x="372.9" y="36.1" width="2.2" height="2.2"/><rect x="372.9" y="43.5" width="2.2" height="2.2"/><rect x="372.9" y="50.9" width="2.2" height="2.2"/><rect x="372.9" y="65.6" width="2.2" height="2.2"/><rect x="372.9" y="72.9" width="2.2" height="2.2"/><rect x="372.9" y="80.3" width="2.2" height="2.2"/><rect x="372.9" y="87.7" width="2.2" height="2.2"/><rect x="372.9" y="102.4" width="2.2" height="2.2"/><rect x="372.9" y="109.8" width="2.2" height="2.2"/><rect x="372.9" y="117.1" width="2.2" height="2.2"/><rect x="372.9" y="124.5" width="2.2" height="2.2"/><rect x="372.9" y="139.2" width="2.2" height="2.2"/><rect x="372.9" y="146.6" width="2.2" height="2.2"/><rect x="372.9" y="153.9" width="2.2" height="2.2"/><rect x="372.9" y="161.3" width="2.2" height="2.2"/><rect x="372.9" y="176.0" width="2.2" height="2.2"/><rect x="372.9" y="183.4" width="2.2" height="2.2"/><rect x="372.9" y="190.7" width="2.2" height="2.2"/><rect x="372.9" y="198.1" width="2.2" height="2.2"/><rect x="372.9" y="212.8" width="2.2" height="2.2"/><rect x="372.9" y="220.2" width="2.2" height="2.2"/><rect x="372.9" y="227.6" width="2.2" height="2.2"/><rect x="372.9" y="234.9" width="2.2" height="2.2"/><rect x="372.9" y="249.6" width="2.2" height="2.2"/><rect x="372.9" y="257.0" width="2.2" height="2.2"/><rect x="372.9" y="264.4" width="2.2" height="2.2"/><rect x="372.9" y="271.7" width="2.2" height="2.2"/><rect x="372.9" y="286.4" width="2.2" height="2.2"/><rect x="372.9" y="293.8" width="2.2" height="2.2"/><rect x="372.9" y="301.2" width="2.2" height="2.2"/><rect x="372.9" y="308.5" width="2.2" height="2.2"/><rect x="412.2" y="28.8" width="2.2" height="2.2"/><rect x="412.2" y="36.1" width="2.2" height="2.2"/><rect x="412.2" y="43.5" width="2.2" height="2.2"/><rect x="412.2" y="50.9" width="2.2" height="2.2"/><rect x="412.2" y="65.6" width="2.2" height="2.2"/><rect x="412.2" y="72.9" width="2.2" height="2.2"/><rect x="412.2" y="80.3" width="2.2" height="2.2"/><rect x="412.2" y="87.7" width="2.2" height="2.2"/><rect x="412.2" y="102.4" width="2.2" height="2.2"/><rect x="412.2" y="109.8" width="2.2" height="2.2"/><rect x="412.2" y="117.1" width="2.2" height="2.2"/><rect x="412.2" y="124.5" width="2.2" height="2.2"/><rect x="412.2" y="139.2" width="2.2" height="2.2"/><rect x="412.2" y="146.6" width="2.2" height="2.2"/><rect x="412.2" y="153.9" width="2.2" height="2.2"/><rect x="412.2" y="161.3" width="2.2" height="2.2"/><rect x="412.2" y="176.0" width="2.2" height="2.2"/><rect x="412.2" y="183.4" width="2.2" height="2.2"/><rect x="412.2" y="190.7" width="2.2" height="2.2"/><rect x="412.2" y="198.1" width="2.2" height="2.2"/><rect x="412.2" y="212.8" width="2.2" height="2.2"/><rect x="412.2" y="220.2" width="2.2" height="2.2"/><rect x="412.2" y="227.6" width="2.2" height="2.2"/><rect x="412.2" y="234.9" width="2.2" height="2.2"/><rect x="412.2" y="249.6" width="2.2" height="2.2"/><rect x="412.2" y="257.0" width="2.2" height="2.2"/><rect x="412.2" y="264.4" width="2.2" height="2.2"/><rect x="412.2" y="271.7" width="2.2" height="2.2"/><rect x="412.2" y="286.4" width="2.2" height="2.2"/><rect x="412.2" y="293.8" width="2.2" height="2.2"/><rect x="412.2" y="301.2" width="2.2" height="2.2"/><rect x="412.2" y="308.5" width="2.2" height="2.2"/><rect x="451.6" y="28.8" width="2.2" height="2.2"/><rect x="451.6" y="36.1" width="2.2" height="2.2"/><rect x="451.6" y="43.5" width="2.2" height="2.2"/><rect x="451.6" y="50.9" width="2.2" height="2.2"/><rect x="451.6" y="65.6" width="2.2" height="2.2"/><rect x="451.6" y="72.9" width="2.2" height="2.2"/><rect x="451.6" y="80.3" width="2.2" height="2.2"/><rect x="451.6" y="87.7" width="2.2" height="2.2"/><rect x="451.6" y="102.4" width="2.2" height="2.2"/><rect x="451.6" y="109.8" width="2.2" height="2.2"/><rect x="451.6" y="117.1" width="2.2" height="2.2"/><rect x="451.6" y="124.5" width="2.2" height="2.2"/><rect x="451.6" y="139.2" width="2.2" height="2.2"/><rect x="451.6" y="146.6" width="2.2" height="2.2"/><rect x="451.6" y="153.9" width="2.2" height="2.2"/><rect x="451.6" y="161.3" width="2.2" height="2.2"/><rect x="451.6" y="176.0" width="2.2" height="2.2"/><rect x="451.6" y="183.4" width="2.2" height="2.2"/><rect x="451.6" y="190.7" width="2.2" height="2.2"/><rect x="451.6" y="198.1" width="2.2" height="2.2"/><rect x="451.6" y="212.8" width="2.2" height="2.2"/><rect x="451.6" y="220.2" width="2.2" height="2.2"/><rect x="451.6" y="227.6" width="2.2" height="2.2"/><rect x="451.6" y="234.9" width="2.2" height="2.2"/><rect x="451.6" y="249.6" width="2.2" height="2.2"/><rect x="451.6" y="257.0" width="2.2" height="2.2"/><rect x="451.6" y="264.4" width="2.2" height="2.2"/><rect x="451.6" y="271.7" width="2.2" height="2.2"/><rect x="451.6" y="286.4" width="2.2" height="2.2"/><rect x="451.6" y="293.8" width="2.2" height="2.2"/><rect x="451.6" y="301.2" width="2.2" height="2.2"/><rect x="451.6" y="308.5" width="2.2" height="2.2"/></g><g fill="#6a6a6a"><rect x="253.5" y="29.2" width="5" height="1.4"/><rect x="253.5" y="36.5" width="5" height="1.4"/><rect x="253.5" y="43.9" width="5" height="1.4"/><rect x="253.5" y="51.2" width="5" height="1.4"/><rect x="253.5" y="58.6" width="5" height="1.4"/><rect x="253.5" y="66.0" width="5" height="1.4"/><rect x="253.5" y="73.3" width="5" height="1.4"/><rect x="253.5" y="80.7" width="5" height="1.4"/><rect x="253.5" y="88.1" width="5" height="1.4"/><rect x="253.5" y="95.4" width="5" height="1.4"/><rect x="253.5" y="102.8" width="5" height="1.4"/><rect x="253.5" y="110.1" width="5" height="1.4"/><rect x="253.5" y="117.5" width="5" height="1.4"/><rect x="253.5" y="124.9" width="5" height="1.4"/><rect x="253.5" y="132.2" width="5" height="1.4"/><rect x="253.5" y="139.6" width="5" height="1.4"/><rect x="253.5" y="147.0" width="5" height="1.4"/><rect x="253.5" y="154.3" width="5" height="1.4"/><rect x="253.5" y="161.7" width="5" height="1.4"/><rect x="253.5" y="169.1" width="5" height="1.4"/><rect x="253.5" y="176.4" width="5" height="1.4"/><rect x="253.5" y="183.8" width="5" height="1.4"/><rect x="253.5" y="191.1" width="5" height="1.4"/><rect x="253.5" y="198.5" width="5" height="1.4"/><rect x="253.5" y="205.9" width="5" height="1.4"/><rect x="253.5" y="213.2" width="5" height="1.4"/><rect x="253.5" y="220.6" width="5" height="1.4"/><rect x="253.5" y="228.0" width="5" height="1.4"/><rect x="253.5" y="235.3" width="5" height="1.4"/><rect x="253.5" y="242.7" width="5" height="1.4"/><rect x="253.5" y="250.0" width="5" height="1.4"/><rect x="253.5" y="257.4" width="5" height="1.4"/><rect x="253.5" y="264.8" width="5" height="1.4"/><rect x="253.5" y="272.1" width="5" height="1.4"/><rect x="253.5" y="279.5" width="5" height="1.4"/><rect x="253.5" y="286.9" width="5" height="1.4"/><rect x="253.5" y="294.2" width="5" height="1.4"/><rect x="253.5" y="301.6" width="5" height="1.4"/><rect x="253.5" y="308.9" width="5" height="1.4"/><rect x="27.2" y="167.2" width="1.4" height="5"/><rect x="35.0" y="167.2" width="1.4" height="5"/><rect x="42.9" y="167.2" width="1.4" height="5"/><rect x="50.8" y="167.2" width="1.4" height="5"/><rect x="58.6" y="167.2" width="1.4" height="5"/><rect x="66.5" y="167.2" width="1.4" height="5"/><rect x="74.4" y="167.2" width="1.4" height="5"/><rect x="82.2" y="167.2" width="1.4" height="5"/><rect x="90.1" y="167.2" width="1.4" height="5"/><rect x="98.0" y="167.2" width="1.4" height="5"/><rect x="105.8" y="167.2" width="1.4" height="5"/><rect x="113.7" y="167.2" width="1.4" height="5"/><rect x="121.6" y="167.2" width="1.4" height="5"/><rect x="129.4" y="167.2" width="1.4" height="5"/><rect x="137.3" y="167.2" width="1.4" height="5"/><rect x="145.2" y="167.2" width="1.4" height="5"/><rect x="153.0" y="167.2" width="1.4" height="5"/><rect x="160.9" y="167.2" width="1.4" height="5"/><rect x="168.8" y="167.2" width="1.4" height="5"/><rect x="176.6" y="167.2" width="1.4" height="5"/><rect x="184.5" y="167.2" width="1.4" height="5"/><rect x="192.4" y="167.2" width="1.4" height="5"/><rect x="200.2" y="167.2" width="1.4" height="5"/><rect x="208.1" y="167.2" width="1.4" height="5"/><rect x="216.0" y="167.2" width="1.4" height="5"/><rect x="223.8" y="167.2" width="1.4" height="5"/><rect x="231.7" y="167.2" width="1.4" height="5"/><rect x="239.6" y="167.2" width="1.4" height="5"/><rect x="247.4" y="167.2" width="1.4" height="5"/><rect x="255.3" y="167.2" width="1.4" height="5"/><rect x="263.2" y="167.2" width="1.4" height="5"/><rect x="271.0" y="167.2" width="1.4" height="5"/><rect x="278.9" y="167.2" width="1.4" height="5"/><rect x="286.8" y="167.2" width="1.4" height="5"/><rect x="294.6" y="167.2" width="1.4" height="5"/><rect x="302.5" y="167.2" width="1.4" height="5"/><rect x="310.4" y="167.2" width="1.4" height="5"/><rect x="318.2" y="167.2" width="1.4" height="5"/><rect x="326.1" y="167.2" width="1.4" height="5"/><rect x="334.0" y="167.2" width="1.4" height="5"/><rect x="341.8" y="167.2" width="1.4" height="5"/><rect x="349.7" y="167.2" width="1.4" height="5"/><rect x="357.6" y="167.2" width="1.4" height="5"/><rect x="365.4" y="167.2" width="1.4" height="5"/><rect x="373.3" y="167.2" width="1.4" height="5"/><rect x="381.2" y="167.2" width="1.4" height="5"/><rect x="389.0" y="167.2" width="1.4" height="5"/><rect x="396.9" y="167.2" width="1.4" height="5"/><rect x="404.8" y="167.2" width="1.4" height="5"/><rect x="412.6" y="167.2" width="1.4" height="5"/><rect x="420.5" y="167.2" width="1.4" height="5"/><rect x="428.4" y="167.2" width="1.4" height="5"/><rect x="436.2" y="167.2" width="1.4" height="5"/><rect x="444.1" y="167.2" width="1.4" height="5"/><rect x="452.0" y="167.2" width="1.4" height="5"/><rect x="459.8" y="167.2" width="1.4" height="5"/><rect x="467.7" y="167.2" width="1.4" height="5"/><rect x="475.6" y="167.2" width="1.4" height="5"/><rect x="483.4" y="167.2" width="1.4" height="5"/><rect x="27.3" y="22.5" width="1.2" height="2.5"/><rect x="27.3" y="314.5" width="1.2" height="2.5"/><rect x="35.1" y="22.5" width="1.2" height="2.5"/><rect x="35.1" y="314.5" width="1.2" height="2.5"/><rect x="43.0" y="22.5" width="1.2" height="2.5"/><rect x="43.0" y="314.5" width="1.2" height="2.5"/><rect x="50.9" y="22.5" width="1.2" height="2.5"/><rect x="50.9" y="314.5" width="1.2" height="2.5"/><rect x="58.7" y="22.5" width="1.2" height="2.5"/><rect x="58.7" y="314.5" width="1.2" height="2.5"/><rect x="66.6" y="22.5" width="1.2" height="2.5"/><rect x="66.6" y="314.5" width="1.2" height="2.5"/><rect x="74.5" y="22.5" width="1.2" height="2.5"/><rect x="74.5" y="314.5" width="1.2" height="2.5"/><rect x="82.3" y="22.5" width="1.2" height="2.5"/><rect x="82.3" y="314.5" width="1.2" height="2.5"/><rect x="90.2" y="22.5" width="1.2" height="2.5"/><rect x="90.2" y="314.5" width="1.2" height="2.5"/><rect x="98.1" y="22.5" width="1.2" height="2.5"/><rect x="98.1" y="314.5" width="1.2" height="2.5"/><rect x="105.9" y="22.5" width="1.2" height="2.5"/><rect x="105.9" y="314.5" width="1.2" height="2.5"/><rect x="113.8" y="22.5" width="1.2" height="2.5"/><rect x="113.8" y="314.5" width="1.2" height="2.5"/><rect x="121.7" y="22.5" width="1.2" height="2.5"/><rect x="121.7" y="314.5" width="1.2" height="2.5"/><rect x="129.5" y="22.5" width="1.2" height="2.5"/><rect x="129.5" y="314.5" width="1.2" height="2.5"/><rect x="137.4" y="22.5" width="1.2" height="2.5"/><rect x="137.4" y="314.5" width="1.2" height="2.5"/><rect x="145.3" y="22.5" width="1.2" height="2.5"/><rect x="145.3" y="314.5" width="1.2" height="2.5"/><rect x="153.1" y="22.5" width="1.2" height="2.5"/><rect x="153.1" y="314.5" width="1.2" height="2.5"/><rect x="161.0" y="22.5" width="1.2" height="2.5"/><rect x="161.0" y="314.5" width="1.2" height="2.5"/><rect x="168.9" y="22.5" width="1.2" height="2.5"/><rect x="168.9" y="314.5" width="1.2" height="2.5"/><rect x="176.7" y="22.5" width="1.2" height="2.5"/><rect x="176.7" y="314.5" width="1.2" height="2.5"/><rect x="184.6" y="22.5" width="1.2" height="2.5"/><rect x="184.6" y="314.5" width="1.2" height="2.5"/><rect x="192.5" y="22.5" width="1.2" height="2.5"/><rect x="192.5" y="314.5" width="1.2" height="2.5"/><rect x="200.3" y="22.5" width="1.2" height="2.5"/><rect x="200.3" y="314.5" width="1.2" height="2.5"/><rect x="208.2" y="22.5" width="1.2" height="2.5"/><rect x="208.2" y="314.5" width="1.2" height="2.5"/><rect x="216.1" y="22.5" width="1.2" height="2.5"/><rect x="216.1" y="314.5" width="1.2" height="2.5"/><rect x="223.9" y="22.5" width="1.2" height="2.5"/><rect x="223.9" y="314.5" width="1.2" height="2.5"/><rect x="231.8" y="22.5" width="1.2" height="2.5"/><rect x="231.8" y="314.5" width="1.2" height="2.5"/><rect x="239.7" y="22.5" width="1.2" height="2.5"/><rect x="239.7" y="314.5" width="1.2" height="2.5"/><rect x="247.5" y="22.5" width="1.2" height="2.5"/><rect x="247.5" y="314.5" width="1.2" height="2.5"/><rect x="255.4" y="22.5" width="1.2" height="2.5"/><rect x="255.4" y="314.5" width="1.2" height="2.5"/><rect x="263.3" y="22.5" width="1.2" height="2.5"/><rect x="263.3" y="314.5" width="1.2" height="2.5"/><rect x="271.1" y="22.5" width="1.2" height="2.5"/><rect x="271.1" y="314.5" width="1.2" height="2.5"/><rect x="279.0" y="22.5" width="1.2" height="2.5"/><rect x="279.0" y="314.5" width="1.2" height="2.5"/><rect x="286.9" y="22.5" width="1.2" height="2.5"/><rect x="286.9" y="314.5" width="1.2" height="2.5"/><rect x="294.7" y="22.5" width="1.2" height="2.5"/><rect x="294.7" y="314.5" width="1.2" height="2.5"/><rect x="302.6" y="22.5" width="1.2" height="2.5"/><rect x="302.6" y="314.5" width="1.2" height="2.5"/><rect x="310.5" y="22.5" width="1.2" height="2.5"/><rect x="310.5" y="314.5" width="1.2" height="2.5"/><rect x="318.3" y="22.5" width="1.2" height="2.5"/><rect x="318.3" y="314.5" width="1.2" height="2.5"/><rect x="326.2" y="22.5" width="1.2" height="2.5"/><rect x="326.2" y="314.5" width="1.2" height="2.5"/><rect x="334.1" y="22.5" width="1.2" height="2.5"/><rect x="334.1" y="314.5" width="1.2" height="2.5"/><rect x="341.9" y="22.5" width="1.2" height="2.5"/><rect x="341.9" y="314.5" width="1.2" height="2.5"/><rect x="349.8" y="22.5" width="1.2" height="2.5"/><rect x="349.8" y="314.5" width="1.2" height="2.5"/><rect x="357.7" y="22.5" width="1.2" height="2.5"/><rect x="357.7" y="314.5" width="1.2" height="2.5"/><rect x="365.5" y="22.5" width="1.2" height="2.5"/><rect x="365.5" y="314.5" width="1.2" height="2.5"/><rect x="373.4" y="22.5" width="1.2" height="2.5"/><rect x="373.4" y="314.5" width="1.2" height="2.5"/><rect x="381.3" y="22.5" width="1.2" height="2.5"/><rect x="381.3" y="314.5" width="1.2" height="2.5"/><rect x="389.1" y="22.5" width="1.2" height="2.5"/><rect x="389.1" y="314.5" width="1.2" height="2.5"/><rect x="397.0" y="22.5" width="1.2" height="2.5"/><rect x="397.0" y="314.5" width="1.2" height="2.5"/><rect x="404.9" y="22.5" width="1.2" height="2.5"/><rect x="404.9" y="314.5" width="1.2" height="2.5"/><rect x="412.7" y="22.5" width="1.2" height="2.5"/><rect x="412.7" y="314.5" width="1.2" height="2.5"/><rect x="420.6" y="22.5" width="1.2" height="2.5"/><rect x="420.6" y="314.5" width="1.2" height="2.5"/><rect x="428.5" y="22.5" width="1.2" height="2.5"/><rect x="428.5" y="314.5" width="1.2" height="2.5"/><rect x="436.3" y="22.5" width="1.2" height="2.5"/><rect x="436.3" y="314.5" width="1.2" height="2.5"/><rect x="444.2" y="22.5" width="1.2" height="2.5"/><rect x="444.2" y="314.5" width="1.2" height="2.5"/><rect x="452.1" y="22.5" width="1.2" height="2.5"/><rect x="452.1" y="314.5" width="1.2" height="2.5"/><rect x="459.9" y="22.5" width="1.2" height="2.5"/><rect x="459.9" y="314.5" width="1.2" height="2.5"/><rect x="467.8" y="22.5" width="1.2" height="2.5"/><rect x="467.8" y="314.5" width="1.2" height="2.5"/><rect x="475.7" y="22.5" width="1.2" height="2.5"/><rect x="475.7" y="314.5" width="1.2" height="2.5"/><rect x="483.5" y="22.5" width="1.2" height="2.5"/><rect x="483.5" y="314.5" width="1.2" height="2.5"/><rect x="20.0" y="29.3" width="2.5" height="1.2"/><rect x="489.5" y="29.3" width="2.5" height="1.2"/><rect x="20.0" y="36.6" width="2.5" height="1.2"/><rect x="489.5" y="36.6" width="2.5" height="1.2"/><rect x="20.0" y="44.0" width="2.5" height="1.2"/><rect x="489.5" y="44.0" width="2.5" height="1.2"/><rect x="20.0" y="51.4" width="2.5" height="1.2"/><rect x="489.5" y="51.4" width="2.5" height="1.2"/><rect x="20.0" y="58.7" width="2.5" height="1.2"/><rect x="489.5" y="58.7" width="2.5" height="1.2"/><rect x="20.0" y="66.1" width="2.5" height="1.2"/><rect x="489.5" y="66.1" width="2.5" height="1.2"/><rect x="20.0" y="73.4" width="2.5" height="1.2"/><rect x="489.5" y="73.4" width="2.5" height="1.2"/><rect x="20.0" y="80.8" width="2.5" height="1.2"/><rect x="489.5" y="80.8" width="2.5" height="1.2"/><rect x="20.0" y="88.2" width="2.5" height="1.2"/><rect x="489.5" y="88.2" width="2.5" height="1.2"/><rect x="20.0" y="95.5" width="2.5" height="1.2"/><rect x="489.5" y="95.5" width="2.5" height="1.2"/><rect x="20.0" y="102.9" width="2.5" height="1.2"/><rect x="489.5" y="102.9" width="2.5" height="1.2"/><rect x="20.0" y="110.2" width="2.5" height="1.2"/><rect x="489.5" y="110.2" width="2.5" height="1.2"/><rect x="20.0" y="117.6" width="2.5" height="1.2"/><rect x="489.5" y="117.6" width="2.5" height="1.2"/><rect x="20.0" y="125.0" width="2.5" height="1.2"/><rect x="489.5" y="125.0" width="2.5" height="1.2"/><rect x="20.0" y="132.3" width="2.5" height="1.2"/><rect x="489.5" y="132.3" width="2.5" height="1.2"/><rect x="20.0" y="139.7" width="2.5" height="1.2"/><rect x="489.5" y="139.7" width="2.5" height="1.2"/><rect x="20.0" y="147.1" width="2.5" height="1.2"/><rect x="489.5" y="147.1" width="2.5" height="1.2"/><rect x="20.0" y="154.4" width="2.5" height="1.2"/><rect x="489.5" y="154.4" width="2.5" height="1.2"/><rect x="20.0" y="161.8" width="2.5" height="1.2"/><rect x="489.5" y="161.8" width="2.5" height="1.2"/><rect x="20.0" y="169.2" width="2.5" height="1.2"/><rect x="489.5" y="169.2" width="2.5" height="1.2"/><rect x="20.0" y="176.5" width="2.5" height="1.2"/><rect x="489.5" y="176.5" width="2.5" height="1.2"/><rect x="20.0" y="183.9" width="2.5" height="1.2"/><rect x="489.5" y="183.9" width="2.5" height="1.2"/><rect x="20.0" y="191.2" width="2.5" height="1.2"/><rect x="489.5" y="191.2" width="2.5" height="1.2"/><rect x="20.0" y="198.6" width="2.5" height="1.2"/><rect x="489.5" y="198.6" width="2.5" height="1.2"/><rect x="20.0" y="206.0" width="2.5" height="1.2"/><rect x="489.5" y="206.0" width="2.5" height="1.2"/><rect x="20.0" y="213.3" width="2.5" height="1.2"/><rect x="489.5" y="213.3" width="2.5" height="1.2"/><rect x="20.0" y="220.7" width="2.5" height="1.2"/><rect x="489.5" y="220.7" width="2.5" height="1.2"/><rect x="20.0" y="228.1" width="2.5" height="1.2"/><rect x="489.5" y="228.1" width="2.5" height="1.2"/><rect x="20.0" y="235.4" width="2.5" height="1.2"/><rect x="489.5" y="235.4" width="2.5" height="1.2"/><rect x="20.0" y="242.8" width="2.5" height="1.2"/><rect x="489.5" y="242.8" width="2.5" height="1.2"/><rect x="20.0" y="250.1" width="2.5" height="1.2"/><rect x="489.5" y="250.1" width="2.5" height="1.2"/><rect x="20.0" y="257.5" width="2.5" height="1.2"/><rect x="489.5" y="257.5" width="2.5" height="1.2"/><rect x="20.0" y="264.9" width="2.5" height="1.2"/><rect x="489.5" y="264.9" width="2.5" height="1.2"/><rect x="20.0" y="272.2" width="2.5" height="1.2"/><rect x="489.5" y="272.2" width="2.5" height="1.2"/><rect x="20.0" y="279.6" width="2.5" height="1.2"/><rect x="489.5" y="279.6" width="2.5" height="1.2"/><rect x="20.0" y="286.9" width="2.5" height="1.2"/><rect x="489.5" y="286.9" width="2.5" height="1.2"/><rect x="20.0" y="294.3" width="2.5" height="1.2"/><rect x="489.5" y="294.3" width="2.5" height="1.2"/><rect x="20.0" y="301.7" width="2.5" height="1.2"/><rect x="489.5" y="301.7" width="2.5" height="1.2"/><rect x="20.0" y="309.0" width="2.5" height="1.2"/><rect x="489.5" y="309.0" width="2.5" height="1.2"/></g><rect x="367.5" y="28" width="118" height="15" rx="6" fill="#4a4a4a" stroke="#6a6a6a" stroke-width="0.8"/><rect x="371" y="29.5" width="13" height="12" rx="3" fill="#f08a18"/><path d="M374,32 h7 v1.8 h-2.5 v5 h-2 v-5 h-2.5z" fill="#5a3000"/><text x="387.5" y="39" fill="#e4e4e4" stroke="#e4e4e4" stroke-width="0.35" style="font-family:&quot;Liberation Mono&quot;,monospace;font-weight:normal;font-size:13px" textLength="37" lengthAdjust="spacingAndGlyphs">&lt;5Hz</text><path d="M251,22.8 h10.6 l-5.3,5.9z" fill="#f08a18"/><g transform="translate(0.0,0)"><path d="M188.6,28.7 h11.7 v9 l-5.85,6.6 l-5.85,-6.6z" fill="#f08a18"/><path d="M191.5,31.5 h6 v1.8 h-2 v6 h-2 v-6 h-2z" fill="#6a3000"/></g><text x="44.3" y="50.2" fill="#ffff00" stroke="#ffff00" stroke-width="0.5" style="font-family:&quot;Liberation Serif&quot;,serif;font-weight:bold;font-size:16.5px" textLength="42.8" lengthAdjust="spacing">Loop</text><text x="100.4" y="50.2" fill="#ffff00" stroke="#ffff00" stroke-width="0.5" style="font-family:&quot;Liberation Serif&quot;,serif;font-weight:bold;font-size:16.5px">1</text><path d="M0,166.2 h12 l5,6.2 l-5,6.2 h-12z" fill="#f2ee1a"/><text x="7.5" y="176.6" fill="#222" text-anchor="middle" style="font-family:&quot;Liberation Mono&quot;,monospace;font-weight:bold;font-size:10px">1</text><path d="M20.5,168.5C21.0,168.6 22.5,169.0 23.5,169.1C24.5,169.1 25.5,168.7 26.5,168.8C27.5,168.8 28.5,169.1 29.5,169.2C30.5,169.3 31.5,169.4 32.5,169.2C33.5,169.1 34.5,168.4 35.5,168.2C36.5,168.0 37.5,167.9 38.5,168.1C39.5,168.4 40.5,169.5 41.5,169.6C42.5,169.7 43.5,168.7 44.5,168.6C45.5,168.4 46.5,168.3 47.5,168.5C48.5,168.7 49.5,169.8 50.5,169.9C51.5,170.0 52.5,169.0 53.5,168.9C54.5,168.9 55.5,169.6 56.5,169.6C57.5,169.6 58.5,169.0 59.5,169.0C60.5,168.9 61.5,169.3 62.5,169.3C63.5,169.2 64.5,168.4 65.5,168.4C66.5,168.4 67.5,169.0 68.5,169.2C69.5,169.5 70.5,169.7 71.5,169.7C72.5,169.6 73.5,169.1 74.5,169.0C75.5,169.0 76.5,169.4 77.5,169.4C78.5,169.5 79.5,169.5 80.5,169.3C81.5,169.1 82.5,168.2 83.5,168.2C84.5,168.2 85.5,169.3 86.5,169.5C87.5,169.6 88.5,169.3 89.5,169.2C90.5,169.0 91.5,168.8 92.5,168.6C93.5,168.5 94.5,168.0 95.5,168.2C96.5,168.3 97.5,169.5 98.5,169.7C99.5,169.8 100.5,169.0 101.5,169.0C102.5,168.9 103.5,169.3 104.5,169.4C105.5,169.5 106.5,169.7 107.5,169.7C108.5,169.7 109.5,169.4 110.5,169.4C111.5,169.4 112.5,169.9 113.5,169.8C114.5,169.7 115.5,168.8 116.5,168.8C117.5,168.8 118.5,169.5 119.5,169.5C120.5,169.6 121.5,168.9 122.5,168.9C123.5,168.9 124.5,169.7 125.5,169.8C126.5,169.9 127.5,169.9 128.5,169.7C129.5,169.4 130.5,168.5 131.5,168.3C132.5,168.1 133.5,168.3 134.5,168.3C135.5,168.4 136.5,168.2 137.5,168.5C138.5,168.7 139.5,169.8 140.5,169.8C141.5,169.9 142.5,169.0 143.5,168.9C144.5,168.8 145.5,169.3 146.5,169.2C147.5,169.2 148.5,168.7 149.5,168.6C150.5,168.6 151.5,169.0 152.5,169.0C153.5,169.0 154.5,168.8 155.5,168.8C156.5,168.7 157.5,168.7 158.5,168.7C159.5,168.8 160.5,169.1 161.5,169.2C162.5,169.2 163.5,169.1 164.5,169.2C165.5,169.2 166.5,169.7 167.5,169.7C168.5,169.8 169.5,169.3 170.5,169.3C171.5,169.3 172.5,169.7 173.5,169.8C174.5,169.8 175.5,169.6 176.5,169.6C177.5,169.7 178.5,169.9 179.5,169.9C180.5,169.8 181.5,169.4 182.5,169.3C183.5,169.2 184.7,169.5 185.4,169.5C186.2,169.5 186.6,170.9 187.0,169.5C187.4,168.1 187.4,165.5 187.8,161.3C188.2,157.1 188.9,149.0 189.3,144.1C189.7,139.2 189.8,136.4 190.1,131.7C190.4,127.0 190.4,121.5 190.9,116.1C191.4,110.6 192.3,102.8 193.2,99.0C194.1,95.2 195.2,93.8 196.3,93.6C197.4,93.3 198.6,95.3 199.5,97.5C200.4,99.7 201.0,103.2 201.8,106.8C202.6,110.4 203.6,115.3 204.1,119.2C204.6,123.1 204.5,125.7 204.9,130.1C205.3,134.5 206.0,140.2 206.5,145.7C207.0,151.1 207.6,156.8 208.0,162.8C208.4,168.8 208.3,174.2 208.8,181.5C209.3,188.8 210.4,199.7 211.1,206.4C211.8,213.2 212.2,217.3 212.7,222.0C213.2,226.7 213.4,232.8 214.2,234.4C215.0,236.0 216.6,234.4 217.4,231.3C218.2,228.2 218.4,221.4 218.9,215.7C219.4,210.0 220.0,203.3 220.5,197.1C221.0,190.9 221.5,184.9 222.0,178.4C222.5,171.9 223.1,164.4 223.6,158.2C224.1,152.0 224.7,146.4 225.1,141.0C225.5,135.6 225.4,130.4 225.9,125.5C226.4,120.6 227.0,115.0 228.2,111.5C229.4,108.0 231.7,104.5 232.9,104.5C234.1,104.5 234.5,108.5 235.3,111.5C236.1,114.5 236.8,118.0 237.6,122.4C238.4,126.8 239.2,132.5 239.9,137.9C240.6,143.3 241.0,148.8 241.5,155.0C242.0,161.2 242.3,169.3 243.0,175.3C243.7,181.3 244.6,185.9 245.4,190.8C246.2,195.7 246.8,204.3 247.7,204.8C248.6,205.3 249.9,198.4 250.8,194.0C251.7,189.6 252.4,183.6 253.2,178.4C254.0,173.2 254.6,167.9 255.5,162.8C256.4,157.7 257.2,151.8 258.5,148.0C259.8,144.2 261.6,139.4 263.2,139.8C264.8,140.2 266.4,145.9 267.8,150.4C269.2,154.9 270.1,160.9 271.3,166.7C272.5,172.5 273.4,179.4 274.8,185.4C276.2,191.4 278.1,202.1 279.5,202.9C280.9,203.7 281.8,195.7 283.0,190.0C284.2,184.3 285.3,175.6 286.5,169.0C287.7,162.4 288.6,154.5 290.0,150.4C291.4,146.3 293.1,143.7 294.7,144.5C296.3,145.3 298.0,149.3 299.4,155.0C300.8,160.7 301.7,171.4 302.9,178.4C304.1,185.4 305.2,191.9 306.4,197.0C307.6,202.1 308.5,209.9 309.9,208.7C311.2,207.5 313.1,197.0 314.5,190.0C315.9,183.0 316.8,174.1 318.0,166.7C319.2,159.3 320.1,150.8 321.5,145.7C322.9,140.6 324.6,135.5 326.2,135.9C327.8,136.3 329.5,142.5 330.9,148.0C332.3,153.5 333.2,162.4 334.4,169.0C335.6,175.6 336.3,181.7 337.9,187.7C339.4,193.7 341.9,203.6 343.7,205.2C345.4,206.8 346.8,202.6 348.4,197.0C350.0,191.4 351.6,179.2 353.1,171.4C354.7,163.6 356.1,154.7 357.7,150.4C359.2,146.1 360.8,145.3 362.4,145.7C364.0,146.1 365.6,149.2 367.1,152.7C368.7,156.2 370.2,162.8 371.7,166.7C373.2,170.6 374.4,173.7 376.0,176.0C377.6,178.3 379.6,181.1 381.4,180.6C383.2,180.1 384.7,175.8 387.0,173.0C389.3,170.2 393.1,164.6 395.3,164.1C397.5,163.6 398.1,167.1 400.0,170.0C401.9,172.9 404.7,181.8 406.7,181.8C408.7,181.8 410.0,174.2 412.0,170.0C414.0,165.8 416.9,157.3 418.9,156.6C420.9,155.9 422.1,162.9 424.0,166.0C425.9,169.1 428.4,174.7 430.2,175.0C432.0,175.3 433.6,169.6 435.0,168.0C436.4,166.4 436.6,166.1 438.3,165.4C440.0,164.7 442.9,164.5 445.0,164.0C447.1,163.5 449.3,161.8 451.0,162.4C452.7,163.0 453.3,165.2 455.0,167.8C456.7,170.4 458.9,175.1 461.0,178.0C463.1,180.9 465.4,185.4 467.4,185.1C469.4,184.8 471.1,179.3 473.0,176.0C474.9,172.7 477.0,167.6 479.0,165.0C481.0,162.4 483.4,160.9 485.1,160.3C486.8,159.7 487.9,161.1 489.0,161.5C490.1,161.9 491.5,162.8 492.0,163.0" stroke="#80802a" stroke-width="1.15" fill="none" stroke-linejoin="round"/><text x="26.3" y="312.3" fill="#d4d468" stroke="#d4d468" stroke-width="0.35" style="font-family:&quot;Liberation Mono&quot;,monospace;font-weight:normal;font-size:14px" textLength="134" lengthAdjust="spacingAndGlyphs">Fall(1)=6.000ns</text><rect x="3" y="322.5" width="131" height="19" fill="#0a0a0a"/><rect x="6.3" y="326.9" width="43" height="10.2" fill="#e8e41c"/><text x="7.5" y="336" fill="#2a2a00" style="font-family:&quot;Liberation Mono&quot;,monospace;font-weight:bold;font-size:11px" textLength="22" lengthAdjust="spacingAndGlyphs">CH1</text><rect x="31" y="329" width="16" height="6" fill="#6a6a10"/><rect x="32" y="331.5" width="14" height="2.5" fill="#e8e41c"/><text x="53.2" y="336.6" fill="#dede60" stroke="#dede60" stroke-width="0.35" style="font-family:&quot;Liberation Mono&quot;,monospace;font-weight:normal;font-size:14px" textLength="56" lengthAdjust="spacingAndGlyphs">10.0mV</text><rect x="111.3" y="326.9" width="12.6" height="10.2" fill="#e8e41c"/><text x="117.6" y="335.8" fill="#333" text-anchor="middle" style="font-family:&quot;Liberation Mono&quot;,monospace;font-weight:bold;font-size:10px">B</text><rect x="274" y="323" width="121" height="17" rx="2" fill="#050505"/><text x="278.6" y="334.8" fill="#e8e8e8" stroke="#e8e8e8" stroke-width="0.35" style="font-family:&quot;Liberation Mono&quot;,monospace;font-weight:normal;font-size:13.5px" textLength="114" lengthAdjust="spacingAndGlyphs">Time 20.00ns</text><rect x="396.5" y="322" width="103" height="17.7" rx="2" fill="#060606"/><rect x="401.4" y="325.9" width="10.7" height="10.1" rx="4" fill="#f08a18"/><path d="M403.8,328.2 h6 v1.6 h-2.2 v4.6 h-1.6 v-4.6 h-2.2z" fill="#5a3000"/><path d="M412.7,331.2 h4.8 M415.3,329 v4.4" stroke="#e88a20" stroke-width="1.2" fill="none"/><text x="418.2" y="335.7" fill="#e88a20" stroke="#e88a20" stroke-width="0.3" style="font-family:&quot;Liberation Mono&quot;,monospace;font-weight:normal;font-size:13.5px" textLength="69.5" lengthAdjust="spacingAndGlyphs">31.20ns</text></svg><svg style="position:absolute;left:11px;top:810px" width="493" height="337" viewBox="0 0 504 343" preserveAspectRatio="none"><rect x="0" y="0" width="504" height="343" fill="#222"/><rect x="0" y="0" width="504" height="1.5" fill="#0c0c0c"/><rect x="0" y="1.5" width="504" height="19.5" fill="#171717"/><rect x="59.7" y="2.5" width="58.3" height="17.5" fill="#070707"/><rect x="158" y="2.5" width="195" height="17.5" fill="#080808"/><rect x="353" y="2.5" width="17" height="17.5" fill="#2a2a2a"/><rect x="370.5" y="3" width="128" height="16.5" rx="2" fill="#070707"/><text x="3.5" y="16.3" fill="#3cc4c4" stroke="#3cc4c4" stroke-width="0.5" style="font-family:&quot;Liberation Mono&quot;,monospace;font-weight:normal;font-size:14.5px" textLength="48" lengthAdjust="spacingAndGlyphs">RIGOL</text><text x="70" y="16.3" fill="#2db22d" stroke="#2db22d" stroke-width="0.3" style="font-family:&quot;Liberation Mono&quot;,monospace;font-weight:bold;font-size:14.5px" textLength="38" lengthAdjust="spacingAndGlyphs">STOP</text><rect x="124.1" y="5.2" width="26.5" height="11.6" rx="3.5" fill="#4f6fc0"/><rect x="127.3" y="7.6" width="19.3" height="6.8" rx="1" fill="#a6bef5"/><rect x="150" y="7.6" width="4" height="6.8" fill="#5a7cd0"/><path d="M164,7.5 h-1.5 v10 h1.5 M348,7.5 h1.5 v10 h-1.5" stroke="#aaa" stroke-width="1" fill="none"/><polyline points="165.0,10.7 169.6,14.3 174.2,10.7 178.8,14.3 183.4,10.7 188.0,14.3 192.6,10.7 197.2,14.3 201.8,10.7 206.4,14.3 211.0,10.7 215.6,14.3 220.2,10.7 224.8,14.3 229.4,10.7 234.0,14.3 238.6,10.7 243.2,14.3 247.8,10.7 252.4,14.3 257.0,10.7 261.6,14.3 266.2,10.7 270.8,14.3 275.4,10.7 280.0,14.3 284.6,10.7 289.2,14.3 293.8,10.7 298.4,14.3 303.0,10.7 307.6,14.3 312.2,10.7 316.8,14.3 321.4,10.7 326.0,14.3 330.6,10.7 335.2,14.3 339.8,10.7 344.4,14.3" stroke="#b0b0b0" stroke-width="1" fill="none"/><path d="M250.5,1.5 h8 v1.8 h-3 v3.5 h-2 v-3.5 h-3z" fill="#f08a18"/><rect x="253.5" y="9" width="2" height="8" fill="#c07020" opacity="0.8"/><path d="M392.5,6.6 h-6 l-3.2,8.6 h-2.6 M383,10.8 h6.3" stroke="#e8e020" stroke-width="1.8" fill="none"/><rect x="404.2" y="5.4" width="15" height="11.7" rx="2.5" fill="#f0ec20"/><path d="M410.3,7.6 h2.8 v7 h1.2 v1 h-5 v-1 h1.4 v-5.6 h-1.2z" fill="#1a1a00"/><text x="431" y="16" fill="#e0e070" stroke="#e0e070" stroke-width="0.4" style="font-family:&quot;Liberation Mono&quot;,monospace;font-weight:normal;font-size:14px" textLength="54" lengthAdjust="spacingAndGlyphs">18.0mV</text><rect x="20.0" y="22.5" width="472.0" height="294.5" fill="#030303" stroke="#5a5a5a" stroke-width="1.6"/><g fill="#4c4c4c"><rect x="26.8" y="58.2" width="2.2" height="2.2"/><rect x="34.6" y="58.2" width="2.2" height="2.2"/><rect x="42.5" y="58.2" width="2.2" height="2.2"/><rect x="50.4" y="58.2" width="2.2" height="2.2"/><rect x="58.2" y="58.2" width="2.2" height="2.2"/><rect x="66.1" y="58.2" width="2.2" height="2.2"/><rect x="74.0" y="58.2" width="2.2" height="2.2"/><rect x="81.8" y="58.2" width="2.2" height="2.2"/><rect x="89.7" y="58.2" width="2.2" height="2.2"/><rect x="97.6" y="58.2" width="2.2" height="2.2"/><rect x="105.4" y="58.2" width="2.2" height="2.2"/><rect x="113.3" y="58.2" width="2.2" height="2.2"/><rect x="121.2" y="58.2" width="2.2" height="2.2"/><rect x="129.0" y="58.2" width="2.2" height="2.2"/><rect x="136.9" y="58.2" width="2.2" height="2.2"/><rect x="144.8" y="58.2" width="2.2" height="2.2"/><rect x="152.6" y="58.2" width="2.2" height="2.2"/><rect x="160.5" y="58.2" width="2.2" height="2.2"/><rect x="168.4" y="58.2" width="2.2" height="2.2"/><rect x="176.2" y="58.2" width="2.2" height="2.2"/><rect x="184.1" y="58.2" width="2.2" height="2.2"/><rect x="192.0" y="58.2" width="2.2" height="2.2"/><rect x="199.8" y="58.2" width="2.2" height="2.2"/><rect x="207.7" y="58.2" width="2.2" height="2.2"/><rect x="215.6" y="58.2" width="2.2" height="2.2"/><rect x="223.4" y="58.2" width="2.2" height="2.2"/><rect x="231.3" y="58.2" width="2.2" height="2.2"/><rect x="239.2" y="58.2" width="2.2" height="2.2"/><rect x="247.0" y="58.2" width="2.2" height="2.2"/><rect x="254.9" y="58.2" width="2.2" height="2.2"/><rect x="262.8" y="58.2" width="2.2" height="2.2"/><rect x="270.6" y="58.2" width="2.2" height="2.2"/><rect x="278.5" y="58.2" width="2.2" height="2.2"/><rect x="286.4" y="58.2" width="2.2" height="2.2"/><rect x="294.2" y="58.2" width="2.2" height="2.2"/><rect x="302.1" y="58.2" width="2.2" height="2.2"/><rect x="310.0" y="58.2" width="2.2" height="2.2"/><rect x="317.8" y="58.2" width="2.2" height="2.2"/><rect x="325.7" y="58.2" width="2.2" height="2.2"/><rect x="333.6" y="58.2" width="2.2" height="2.2"/><rect x="341.4" y="58.2" width="2.2" height="2.2"/><rect x="349.3" y="58.2" width="2.2" height="2.2"/><rect x="357.2" y="58.2" width="2.2" height="2.2"/><rect x="365.0" y="58.2" width="2.2" height="2.2"/><rect x="372.9" y="58.2" width="2.2" height="2.2"/><rect x="380.8" y="58.2" width="2.2" height="2.2"/><rect x="388.6" y="58.2" width="2.2" height="2.2"/><rect x="396.5" y="58.2" width="2.2" height="2.2"/><rect x="404.4" y="58.2" width="2.2" height="2.2"/><rect x="412.2" y="58.2" width="2.2" height="2.2"/><rect x="420.1" y="58.2" width="2.2" height="2.2"/><rect x="428.0" y="58.2" width="2.2" height="2.2"/><rect x="435.8" y="58.2" width="2.2" height="2.2"/><rect x="443.7" y="58.2" width="2.2" height="2.2"/><rect x="451.6" y="58.2" width="2.2" height="2.2"/><rect x="459.4" y="58.2" width="2.2" height="2.2"/><rect x="467.3" y="58.2" width="2.2" height="2.2"/><rect x="475.2" y="58.2" width="2.2" height="2.2"/><rect x="483.0" y="58.2" width="2.2" height="2.2"/><rect x="26.8" y="95.0" width="2.2" height="2.2"/><rect x="34.6" y="95.0" width="2.2" height="2.2"/><rect x="42.5" y="95.0" width="2.2" height="2.2"/><rect x="50.4" y="95.0" width="2.2" height="2.2"/><rect x="58.2" y="95.0" width="2.2" height="2.2"/><rect x="66.1" y="95.0" width="2.2" height="2.2"/><rect x="74.0" y="95.0" width="2.2" height="2.2"/><rect x="81.8" y="95.0" width="2.2" height="2.2"/><rect x="89.7" y="95.0" width="2.2" height="2.2"/><rect x="97.6" y="95.0" width="2.2" height="2.2"/><rect x="105.4" y="95.0" width="2.2" height="2.2"/><rect x="113.3" y="95.0" width="2.2" height="2.2"/><rect x="121.2" y="95.0" width="2.2" height="2.2"/><rect x="129.0" y="95.0" width="2.2" height="2.2"/><rect x="136.9" y="95.0" width="2.2" height="2.2"/><rect x="144.8" y="95.0" width="2.2" height="2.2"/><rect x="152.6" y="95.0" width="2.2" height="2.2"/><rect x="160.5" y="95.0" width="2.2" height="2.2"/><rect x="168.4" y="95.0" width="2.2" height="2.2"/><rect x="176.2" y="95.0" width="2.2" height="2.2"/><rect x="184.1" y="95.0" width="2.2" height="2.2"/><rect x="192.0" y="95.0" width="2.2" height="2.2"/><rect x="199.8" y="95.0" width="2.2" height="2.2"/><rect x="207.7" y="95.0" width="2.2" height="2.2"/><rect x="215.6" y="95.0" width="2.2" height="2.2"/><rect x="223.4" y="95.0" width="2.2" height="2.2"/><rect x="231.3" y="95.0" width="2.2" height="2.2"/><rect x="239.2" y="95.0" width="2.2" height="2.2"/><rect x="247.0" y="95.0" width="2.2" height="2.2"/><rect x="254.9" y="95.0" width="2.2" height="2.2"/><rect x="262.8" y="95.0" width="2.2" height="2.2"/><rect x="270.6" y="95.0" width="2.2" height="2.2"/><rect x="278.5" y="95.0" width="2.2" height="2.2"/><rect x="286.4" y="95.0" width="2.2" height="2.2"/><rect x="294.2" y="95.0" width="2.2" height="2.2"/><rect x="302.1" y="95.0" width="2.2" height="2.2"/><rect x="310.0" y="95.0" width="2.2" height="2.2"/><rect x="317.8" y="95.0" width="2.2" height="2.2"/><rect x="325.7" y="95.0" width="2.2" height="2.2"/><rect x="333.6" y="95.0" width="2.2" height="2.2"/><rect x="341.4" y="95.0" width="2.2" height="2.2"/><rect x="349.3" y="95.0" width="2.2" height="2.2"/><rect x="357.2" y="95.0" width="2.2" height="2.2"/><rect x="365.0" y="95.0" width="2.2" height="2.2"/><rect x="372.9" y="95.0" width="2.2" height="2.2"/><rect x="380.8" y="95.0" width="2.2" height="2.2"/><rect x="388.6" y="95.0" width="2.2" height="2.2"/><rect x="396.5" y="95.0" width="2.2" height="2.2"/><rect x="404.4" y="95.0" width="2.2" height="2.2"/><rect x="412.2" y="95.0" width="2.2" height="2.2"/><rect x="420.1" y="95.0" width="2.2" height="2.2"/><rect x="428.0" y="95.0" width="2.2" height="2.2"/><rect x="435.8" y="95.0" width="2.2" height="2.2"/><rect x="443.7" y="95.0" width="2.2" height="2.2"/><rect x="451.6" y="95.0" width="2.2" height="2.2"/><rect x="459.4" y="95.0" width="2.2" height="2.2"/><rect x="467.3" y="95.0" width="2.2" height="2.2"/><rect x="475.2" y="95.0" width="2.2" height="2.2"/><rect x="483.0" y="95.0" width="2.2" height="2.2"/><rect x="26.8" y="131.8" width="2.2" height="2.2"/><rect x="34.6" y="131.8" width="2.2" height="2.2"/><rect x="42.5" y="131.8" width="2.2" height="2.2"/><rect x="50.4" y="131.8" width="2.2" height="2.2"/><rect x="58.2" y="131.8" width="2.2" height="2.2"/><rect x="66.1" y="131.8" width="2.2" height="2.2"/><rect x="74.0" y="131.8" width="2.2" height="2.2"/><rect x="81.8" y="131.8" width="2.2" height="2.2"/><rect x="89.7" y="131.8" width="2.2" height="2.2"/><rect x="97.6" y="131.8" width="2.2" height="2.2"/><rect x="105.4" y="131.8" width="2.2" height="2.2"/><rect x="113.3" y="131.8" width="2.2" height="2.2"/><rect x="121.2" y="131.8" width="2.2" height="2.2"/><rect x="129.0" y="131.8" width="2.2" height="2.2"/><rect x="136.9" y="131.8" width="2.2" height="2.2"/><rect x="144.8" y="131.8" width="2.2" height="2.2"/><rect x="152.6" y="131.8" width="2.2" height="2.2"/><rect x="160.5" y="131.8" width="2.2" height="2.2"/><rect x="168.4" y="131.8" width="2.2" height="2.2"/><rect x="176.2" y="131.8" width="2.2" height="2.2"/><rect x="184.1" y="131.8" width="2.2" height="2.2"/><rect x="192.0" y="131.8" width="2.2" height="2.2"/><rect x="199.8" y="131.8" width="2.2" height="2.2"/><rect x="207.7" y="131.8" width="2.2" height="2.2"/><rect x="215.6" y="131.8" width="2.2" height="2.2"/><rect x="223.4" y="131.8" width="2.2" height="2.2"/><rect x="231.3" y="131.8" width="2.2" height="2.2"/><rect x="239.2" y="131.8" width="2.2" height="2.2"/><rect x="247.0" y="131.8" width="2.2" height="2.2"/><rect x="254.9" y="131.8" width="2.2" height="2.2"/><rect x="262.8" y="131.8" width="2.2" height="2.2"/><rect x="270.6" y="131.8" width="2.2" height="2.2"/><rect x="278.5" y="131.8" width="2.2" height="2.2"/><rect x="286.4" y="131.8" width="2.2" height="2.2"/><rect x="294.2" y="131.8" width="2.2" height="2.2"/><rect x="302.1" y="131.8" width="2.2" height="2.2"/><rect x="310.0" y="131.8" width="2.2" height="2.2"/><rect x="317.8" y="131.8" width="2.2" height="2.2"/><rect x="325.7" y="131.8" width="2.2" height="2.2"/><rect x="333.6" y="131.8" width="2.2" height="2.2"/><rect x="341.4" y="131.8" width="2.2" height="2.2"/><rect x="349.3" y="131.8" width="2.2" height="2.2"/><rect x="357.2" y="131.8" width="2.2" height="2.2"/><rect x="365.0" y="131.8" width="2.2" height="2.2"/><rect x="372.9" y="131.8" width="2.2" height="2.2"/><rect x="380.8" y="131.8" width="2.2" height="2.2"/><rect x="388.6" y="131.8" width="2.2" height="2.2"/><rect x="396.5" y="131.8" width="2.2" height="2.2"/><rect x="404.4" y="131.8" width="2.2" height="2.2"/><rect x="412.2" y="131.8" width="2.2" height="2.2"/><rect x="420.1" y="131.8" width="2.2" height="2.2"/><rect x="428.0" y="131.8" width="2.2" height="2.2"/><rect x="435.8" y="131.8" width="2.2" height="2.2"/><rect x="443.7" y="131.8" width="2.2" height="2.2"/><rect x="451.6" y="131.8" width="2.2" height="2.2"/><rect x="459.4" y="131.8" width="2.2" height="2.2"/><rect x="467.3" y="131.8" width="2.2" height="2.2"/><rect x="475.2" y="131.8" width="2.2" height="2.2"/><rect x="483.0" y="131.8" width="2.2" height="2.2"/><rect x="26.8" y="168.7" width="2.2" height="2.2"/><rect x="34.6" y="168.7" width="2.2" height="2.2"/><rect x="42.5" y="168.7" width="2.2" height="2.2"/><rect x="50.4" y="168.7" width="2.2" height="2.2"/><rect x="58.2" y="168.7" width="2.2" height="2.2"/><rect x="66.1" y="168.7" width="2.2" height="2.2"/><rect x="74.0" y="168.7" width="2.2" height="2.2"/><rect x="81.8" y="168.7" width="2.2" height="2.2"/><rect x="89.7" y="168.7" width="2.2" height="2.2"/><rect x="97.6" y="168.7" width="2.2" height="2.2"/><rect x="105.4" y="168.7" width="2.2" height="2.2"/><rect x="113.3" y="168.7" width="2.2" height="2.2"/><rect x="121.2" y="168.7" width="2.2" height="2.2"/><rect x="129.0" y="168.7" width="2.2" height="2.2"/><rect x="136.9" y="168.7" width="2.2" height="2.2"/><rect x="144.8" y="168.7" width="2.2" height="2.2"/><rect x="152.6" y="168.7" width="2.2" height="2.2"/><rect x="160.5" y="168.7" width="2.2" height="2.2"/><rect x="168.4" y="168.7" width="2.2" height="2.2"/><rect x="176.2" y="168.7" width="2.2" height="2.2"/><rect x="184.1" y="168.7" width="2.2" height="2.2"/><rect x="192.0" y="168.7" width="2.2" height="2.2"/><rect x="199.8" y="168.7" width="2.2" height="2.2"/><rect x="207.7" y="168.7" width="2.2" height="2.2"/><rect x="215.6" y="168.7" width="2.2" height="2.2"/><rect x="223.4" y="168.7" width="2.2" height="2.2"/><rect x="231.3" y="168.7" width="2.2" height="2.2"/><rect x="239.2" y="168.7" width="2.2" height="2.2"/><rect x="247.0" y="168.7" width="2.2" height="2.2"/><rect x="254.9" y="168.7" width="2.2" height="2.2"/><rect x="262.8" y="168.7" width="2.2" height="2.2"/><rect x="270.6" y="168.7" width="2.2" height="2.2"/><rect x="278.5" y="168.7" width="2.2" height="2.2"/><rect x="286.4" y="168.7" width="2.2" height="2.2"/><rect x="294.2" y="168.7" width="2.2" height="2.2"/><rect x="302.1" y="168.7" width="2.2" height="2.2"/><rect x="310.0" y="168.7" width="2.2" height="2.2"/><rect x="317.8" y="168.7" width="2.2" height="2.2"/><rect x="325.7" y="168.7" width="2.2" height="2.2"/><rect x="333.6" y="168.7" width="2.2" height="2.2"/><rect x="341.4" y="168.7" width="2.2" height="2.2"/><rect x="349.3" y="168.7" width="2.2" height="2.2"/><rect x="357.2" y="168.7" width="2.2" height="2.2"/><rect x="365.0" y="168.7" width="2.2" height="2.2"/><rect x="372.9" y="168.7" width="2.2" height="2.2"/><rect x="380.8" y="168.7" width="2.2" height="2.2"/><rect x="388.6" y="168.7" width="2.2" height="2.2"/><rect x="396.5" y="168.7" width="2.2" height="2.2"/><rect x="404.4" y="168.7" width="2.2" height="2.2"/><rect x="412.2" y="168.7" width="2.2" height="2.2"/><rect x="420.1" y="168.7" width="2.2" height="2.2"/><rect x="428.0" y="168.7" width="2.2" height="2.2"/><rect x="435.8" y="168.7" width="2.2" height="2.2"/><rect x="443.7" y="168.7" width="2.2" height="2.2"/><rect x="451.6" y="168.7" width="2.2" height="2.2"/><rect x="459.4" y="168.7" width="2.2" height="2.2"/><rect x="467.3" y="168.7" width="2.2" height="2.2"/><rect x="475.2" y="168.7" width="2.2" height="2.2"/><rect x="483.0" y="168.7" width="2.2" height="2.2"/><rect x="26.8" y="205.5" width="2.2" height="2.2"/><rect x="34.6" y="205.5" width="2.2" height="2.2"/><rect x="42.5" y="205.5" width="2.2" height="2.2"/><rect x="50.4" y="205.5" width="2.2" height="2.2"/><rect x="58.2" y="205.5" width="2.2" height="2.2"/><rect x="66.1" y="205.5" width="2.2" height="2.2"/><rect x="74.0" y="205.5" width="2.2" height="2.2"/><rect x="81.8" y="205.5" width="2.2" height="2.2"/><rect x="89.7" y="205.5" width="2.2" height="2.2"/><rect x="97.6" y="205.5" width="2.2" height="2.2"/><rect x="105.4" y="205.5" width="2.2" height="2.2"/><rect x="113.3" y="205.5" width="2.2" height="2.2"/><rect x="121.2" y="205.5" width="2.2" height="2.2"/><rect x="129.0" y="205.5" width="2.2" height="2.2"/><rect x="136.9" y="205.5" width="2.2" height="2.2"/><rect x="144.8" y="205.5" width="2.2" height="2.2"/><rect x="152.6" y="205.5" width="2.2" height="2.2"/><rect x="160.5" y="205.5" width="2.2" height="2.2"/><rect x="168.4" y="205.5" width="2.2" height="2.2"/><rect x="176.2" y="205.5" width="2.2" height="2.2"/><rect x="184.1" y="205.5" width="2.2" height="2.2"/><rect x="192.0" y="205.5" width="2.2" height="2.2"/><rect x="199.8" y="205.5" width="2.2" height="2.2"/><rect x="207.7" y="205.5" width="2.2" height="2.2"/><rect x="215.6" y="205.5" width="2.2" height="2.2"/><rect x="223.4" y="205.5" width="2.2" height="2.2"/><rect x="231.3" y="205.5" width="2.2" height="2.2"/><rect x="239.2" y="205.5" width="2.2" height="2.2"/><rect x="247.0" y="205.5" width="2.2" height="2.2"/><rect x="254.9" y="205.5" width="2.2" height="2.2"/><rect x="262.8" y="205.5" width="2.2" height="2.2"/><rect x="270.6" y="205.5" width="2.2" height="2.2"/><rect x="278.5" y="205.5" width="2.2" height="2.2"/><rect x="286.4" y="205.5" width="2.2" height="2.2"/><rect x="294.2" y="205.5" width="2.2" height="2.2"/><rect x="302.1" y="205.5" width="2.2" height="2.2"/><rect x="310.0" y="205.5" width="2.2" height="2.2"/><rect x="317.8" y="205.5" width="2.2" height="2.2"/><rect x="325.7" y="205.5" width="2.2" height="2.2"/><rect x="333.6" y="205.5" width="2.2" height="2.2"/><rect x="341.4" y="205.5" width="2.2" height="2.2"/><rect x="349.3" y="205.5" width="2.2" height="2.2"/><rect x="357.2" y="205.5" width="2.2" height="2.2"/><rect x="365.0" y="205.5" width="2.2" height="2.2"/><rect x="372.9" y="205.5" width="2.2" height="2.2"/><rect x="380.8" y="205.5" width="2.2" height="2.2"/><rect x="388.6" y="205.5" width="2.2" height="2.2"/><rect x="396.5" y="205.5" width="2.2" height="2.2"/><rect x="404.4" y="205.5" width="2.2" height="2.2"/><rect x="412.2" y="205.5" width="2.2" height="2.2"/><rect x="420.1" y="205.5" width="2.2" height="2.2"/><rect x="428.0" y="205.5" width="2.2" height="2.2"/><rect x="435.8" y="205.5" width="2.2" height="2.2"/><rect x="443.7" y="205.5" width="2.2" height="2.2"/><rect x="451.6" y="205.5" width="2.2" height="2.2"/><rect x="459.4" y="205.5" width="2.2" height="2.2"/><rect x="467.3" y="205.5" width="2.2" height="2.2"/><rect x="475.2" y="205.5" width="2.2" height="2.2"/><rect x="483.0" y="205.5" width="2.2" height="2.2"/><rect x="26.8" y="242.3" width="2.2" height="2.2"/><rect x="34.6" y="242.3" width="2.2" height="2.2"/><rect x="42.5" y="242.3" width="2.2" height="2.2"/><rect x="50.4" y="242.3" width="2.2" height="2.2"/><rect x="58.2" y="242.3" width="2.2" height="2.2"/><rect x="66.1" y="242.3" width="2.2" height="2.2"/><rect x="74.0" y="242.3" width="2.2" height="2.2"/><rect x="81.8" y="242.3" width="2.2" height="2.2"/><rect x="89.7" y="242.3" width="2.2" height="2.2"/><rect x="97.6" y="242.3" width="2.2" height="2.2"/><rect x="105.4" y="242.3" width="2.2" height="2.2"/><rect x="113.3" y="242.3" width="2.2" height="2.2"/><rect x="121.2" y="242.3" width="2.2" height="2.2"/><rect x="129.0" y="242.3" width="2.2" height="2.2"/><rect x="136.9" y="242.3" width="2.2" height="2.2"/><rect x="144.8" y="242.3" width="2.2" height="2.2"/><rect x="152.6" y="242.3" width="2.2" height="2.2"/><rect x="160.5" y="242.3" width="2.2" height="2.2"/><rect x="168.4" y="242.3" width="2.2" height="2.2"/><rect x="176.2" y="242.3" width="2.2" height="2.2"/><rect x="184.1" y="242.3" width="2.2" height="2.2"/><rect x="192.0" y="242.3" width="2.2" height="2.2"/><rect x="199.8" y="242.3" width="2.2" height="2.2"/><rect x="207.7" y="242.3" width="2.2" height="2.2"/><rect x="215.6" y="242.3" width="2.2" height="2.2"/><rect x="223.4" y="242.3" width="2.2" height="2.2"/><rect x="231.3" y="242.3" width="2.2" height="2.2"/><rect x="239.2" y="242.3" width="2.2" height="2.2"/><rect x="247.0" y="242.3" width="2.2" height="2.2"/><rect x="254.9" y="242.3" width="2.2" height="2.2"/><rect x="262.8" y="242.3" width="2.2" height="2.2"/><rect x="270.6" y="242.3" width="2.2" height="2.2"/><rect x="278.5" y="242.3" width="2.2" height="2.2"/><rect x="286.4" y="242.3" width="2.2" height="2.2"/><rect x="294.2" y="242.3" width="2.2" height="2.2"/><rect x="302.1" y="242.3" width="2.2" height="2.2"/><rect x="310.0" y="242.3" width="2.2" height="2.2"/><rect x="317.8" y="242.3" width="2.2" height="2.2"/><rect x="325.7" y="242.3" width="2.2" height="2.2"/><rect x="333.6" y="242.3" width="2.2" height="2.2"/><rect x="341.4" y="242.3" width="2.2" height="2.2"/><rect x="349.3" y="242.3" width="2.2" height="2.2"/><rect x="357.2" y="242.3" width="2.2" height="2.2"/><rect x="365.0" y="242.3" width="2.2" height="2.2"/><rect x="372.9" y="242.3" width="2.2" height="2.2"/><rect x="380.8" y="242.3" width="2.2" height="2.2"/><rect x="388.6" y="242.3" width="2.2" height="2.2"/><rect x="396.5" y="242.3" width="2.2" height="2.2"/><rect x="404.4" y="242.3" width="2.2" height="2.2"/><rect x="412.2" y="242.3" width="2.2" height="2.2"/><rect x="420.1" y="242.3" width="2.2" height="2.2"/><rect x="428.0" y="242.3" width="2.2" height="2.2"/><rect x="435.8" y="242.3" width="2.2" height="2.2"/><rect x="443.7" y="242.3" width="2.2" height="2.2"/><rect x="451.6" y="242.3" width="2.2" height="2.2"/><rect x="459.4" y="242.3" width="2.2" height="2.2"/><rect x="467.3" y="242.3" width="2.2" height="2.2"/><rect x="475.2" y="242.3" width="2.2" height="2.2"/><rect x="483.0" y="242.3" width="2.2" height="2.2"/><rect x="26.8" y="279.1" width="2.2" height="2.2"/><rect x="34.6" y="279.1" width="2.2" height="2.2"/><rect x="42.5" y="279.1" width="2.2" height="2.2"/><rect x="50.4" y="279.1" width="2.2" height="2.2"/><rect x="58.2" y="279.1" width="2.2" height="2.2"/><rect x="66.1" y="279.1" width="2.2" height="2.2"/><rect x="74.0" y="279.1" width="2.2" height="2.2"/><rect x="81.8" y="279.1" width="2.2" height="2.2"/><rect x="89.7" y="279.1" width="2.2" height="2.2"/><rect x="97.6" y="279.1" width="2.2" height="2.2"/><rect x="105.4" y="279.1" width="2.2" height="2.2"/><rect x="113.3" y="279.1" width="2.2" height="2.2"/><rect x="121.2" y="279.1" width="2.2" height="2.2"/><rect x="129.0" y="279.1" width="2.2" height="2.2"/><rect x="136.9" y="279.1" width="2.2" height="2.2"/><rect x="144.8" y="279.1" width="2.2" height="2.2"/><rect x="152.6" y="279.1" width="2.2" height="2.2"/><rect x="160.5" y="279.1" width="2.2" height="2.2"/><rect x="168.4" y="279.1" width="2.2" height="2.2"/><rect x="176.2" y="279.1" width="2.2" height="2.2"/><rect x="184.1" y="279.1" width="2.2" height="2.2"/><rect x="192.0" y="279.1" width="2.2" height="2.2"/><rect x="199.8" y="279.1" width="2.2" height="2.2"/><rect x="207.7" y="279.1" width="2.2" height="2.2"/><rect x="215.6" y="279.1" width="2.2" height="2.2"/><rect x="223.4" y="279.1" width="2.2" height="2.2"/><rect x="231.3" y="279.1" width="2.2" height="2.2"/><rect x="239.2" y="279.1" width="2.2" height="2.2"/><rect x="247.0" y="279.1" width="2.2" height="2.2"/><rect x="254.9" y="279.1" width="2.2" height="2.2"/><rect x="262.8" y="279.1" width="2.2" height="2.2"/><rect x="270.6" y="279.1" width="2.2" height="2.2"/><rect x="278.5" y="279.1" width="2.2" height="2.2"/><rect x="286.4" y="279.1" width="2.2" height="2.2"/><rect x="294.2" y="279.1" width="2.2" height="2.2"/><rect x="302.1" y="279.1" width="2.2" height="2.2"/><rect x="310.0" y="279.1" width="2.2" height="2.2"/><rect x="317.8" y="279.1" width="2.2" height="2.2"/><rect x="325.7" y="279.1" width="2.2" height="2.2"/><rect x="333.6" y="279.1" width="2.2" height="2.2"/><rect x="341.4" y="279.1" width="2.2" height="2.2"/><rect x="349.3" y="279.1" width="2.2" height="2.2"/><rect x="357.2" y="279.1" width="2.2" height="2.2"/><rect x="365.0" y="279.1" width="2.2" height="2.2"/><rect x="372.9" y="279.1" width="2.2" height="2.2"/><rect x="380.8" y="279.1" width="2.2" height="2.2"/><rect x="388.6" y="279.1" width="2.2" height="2.2"/><rect x="396.5" y="279.1" width="2.2" height="2.2"/><rect x="404.4" y="279.1" width="2.2" height="2.2"/><rect x="412.2" y="279.1" width="2.2" height="2.2"/><rect x="420.1" y="279.1" width="2.2" height="2.2"/><rect x="428.0" y="279.1" width="2.2" height="2.2"/><rect x="435.8" y="279.1" width="2.2" height="2.2"/><rect x="443.7" y="279.1" width="2.2" height="2.2"/><rect x="451.6" y="279.1" width="2.2" height="2.2"/><rect x="459.4" y="279.1" width="2.2" height="2.2"/><rect x="467.3" y="279.1" width="2.2" height="2.2"/><rect x="475.2" y="279.1" width="2.2" height="2.2"/><rect x="483.0" y="279.1" width="2.2" height="2.2"/><rect x="58.2" y="28.8" width="2.2" height="2.2"/><rect x="58.2" y="36.1" width="2.2" height="2.2"/><rect x="58.2" y="43.5" width="2.2" height="2.2"/><rect x="58.2" y="50.9" width="2.2" height="2.2"/><rect x="58.2" y="65.6" width="2.2" height="2.2"/><rect x="58.2" y="72.9" width="2.2" height="2.2"/><rect x="58.2" y="80.3" width="2.2" height="2.2"/><rect x="58.2" y="87.7" width="2.2" height="2.2"/><rect x="58.2" y="102.4" width="2.2" height="2.2"/><rect x="58.2" y="109.8" width="2.2" height="2.2"/><rect x="58.2" y="117.1" width="2.2" height="2.2"/><rect x="58.2" y="124.5" width="2.2" height="2.2"/><rect x="58.2" y="139.2" width="2.2" height="2.2"/><rect x="58.2" y="146.6" width="2.2" height="2.2"/><rect x="58.2" y="153.9" width="2.2" height="2.2"/><rect x="58.2" y="161.3" width="2.2" height="2.2"/><rect x="58.2" y="176.0" width="2.2" height="2.2"/><rect x="58.2" y="183.4" width="2.2" height="2.2"/><rect x="58.2" y="190.7" width="2.2" height="2.2"/><rect x="58.2" y="198.1" width="2.2" height="2.2"/><rect x="58.2" y="212.8" width="2.2" height="2.2"/><rect x="58.2" y="220.2" width="2.2" height="2.2"/><rect x="58.2" y="227.6" width="2.2" height="2.2"/><rect x="58.2" y="234.9" width="2.2" height="2.2"/><rect x="58.2" y="249.6" width="2.2" height="2.2"/><rect x="58.2" y="257.0" width="2.2" height="2.2"/><rect x="58.2" y="264.4" width="2.2" height="2.2"/><rect x="58.2" y="271.7" width="2.2" height="2.2"/><rect x="58.2" y="286.4" width="2.2" height="2.2"/><rect x="58.2" y="293.8" width="2.2" height="2.2"/><rect x="58.2" y="301.2" width="2.2" height="2.2"/><rect x="58.2" y="308.5" width="2.2" height="2.2"/><rect x="97.6" y="28.8" width="2.2" height="2.2"/><rect x="97.6" y="36.1" width="2.2" height="2.2"/><rect x="97.6" y="43.5" width="2.2" height="2.2"/><rect x="97.6" y="50.9" width="2.2" height="2.2"/><rect x="97.6" y="65.6" width="2.2" height="2.2"/><rect x="97.6" y="72.9" width="2.2" height="2.2"/><rect x="97.6" y="80.3" width="2.2" height="2.2"/><rect x="97.6" y="87.7" width="2.2" height="2.2"/><rect x="97.6" y="102.4" width="2.2" height="2.2"/><rect x="97.6" y="109.8" width="2.2" height="2.2"/><rect x="97.6" y="117.1" width="2.2" height="2.2"/><rect x="97.6" y="124.5" width="2.2" height="2.2"/><rect x="97.6" y="139.2" width="2.2" height="2.2"/><rect x="97.6" y="146.6" width="2.2" height="2.2"/><rect x="97.6" y="153.9" width="2.2" height="2.2"/><rect x="97.6" y="161.3" width="2.2" height="2.2"/><rect x="97.6" y="176.0" width="2.2" height="2.2"/><rect x="97.6" y="183.4" width="2.2" height="2.2"/><rect x="97.6" y="190.7" width="2.2" height="2.2"/><rect x="97.6" y="198.1" width="2.2" height="2.2"/><rect x="97.6" y="212.8" width="2.2" height="2.2"/><rect x="97.6" y="220.2" width="2.2" height="2.2"/><rect x="97.6" y="227.6" width="2.2" height="2.2"/><rect x="97.6" y="234.9" width="2.2" height="2.2"/><rect x="97.6" y="249.6" width="2.2" height="2.2"/><rect x="97.6" y="257.0" width="2.2" height="2.2"/><rect x="97.6" y="264.4" width="2.2" height="2.2"/><rect x="97.6" y="271.7" width="2.2" height="2.2"/><rect x="97.6" y="286.4" width="2.2" height="2.2"/><rect x="97.6" y="293.8" width="2.2" height="2.2"/><rect x="97.6" y="301.2" width="2.2" height="2.2"/><rect x="97.6" y="308.5" width="2.2" height="2.2"/><rect x="136.9" y="28.8" width="2.2" height="2.2"/><rect x="136.9" y="36.1" width="2.2" height="2.2"/><rect x="136.9" y="43.5" width="2.2" height="2.2"/><rect x="136.9" y="50.9" width="2.2" height="2.2"/><rect x="136.9" y="65.6" width="2.2" height="2.2"/><rect x="136.9" y="72.9" width="2.2" height="2.2"/><rect x="136.9" y="80.3" width="2.2" height="2.2"/><rect x="136.9" y="87.7" width="2.2" height="2.2"/><rect x="136.9" y="102.4" width="2.2" height="2.2"/><rect x="136.9" y="109.8" width="2.2" height="2.2"/><rect x="136.9" y="117.1" width="2.2" height="2.2"/><rect x="136.9" y="124.5" width="2.2" height="2.2"/><rect x="136.9" y="139.2" width="2.2" height="2.2"/><rect x="136.9" y="146.6" width="2.2" height="2.2"/><rect x="136.9" y="153.9" width="2.2" height="2.2"/><rect x="136.9" y="161.3" width="2.2" height="2.2"/><rect x="136.9" y="176.0" width="2.2" height="2.2"/><rect x="136.9" y="183.4" width="2.2" height="2.2"/><rect x="136.9" y="190.7" width="2.2" height="2.2"/><rect x="136.9" y="198.1" width="2.2" height="2.2"/><rect x="136.9" y="212.8" width="2.2" height="2.2"/><rect x="136.9" y="220.2" width="2.2" height="2.2"/><rect x="136.9" y="227.6" width="2.2" height="2.2"/><rect x="136.9" y="234.9" width="2.2" height="2.2"/><rect x="136.9" y="249.6" width="2.2" height="2.2"/><rect x="136.9" y="257.0" width="2.2" height="2.2"/><rect x="136.9" y="264.4" width="2.2" height="2.2"/><rect x="136.9" y="271.7" width="2.2" height="2.2"/><rect x="136.9" y="286.4" width="2.2" height="2.2"/><rect x="136.9" y="293.8" width="2.2" height="2.2"/><rect x="136.9" y="301.2" width="2.2" height="2.2"/><rect x="136.9" y="308.5" width="2.2" height="2.2"/><rect x="176.2" y="28.8" width="2.2" height="2.2"/><rect x="176.2" y="36.1" width="2.2" height="2.2"/><rect x="176.2" y="43.5" width="2.2" height="2.2"/><rect x="176.2" y="50.9" width="2.2" height="2.2"/><rect x="176.2" y="65.6" width="2.2" height="2.2"/><rect x="176.2" y="72.9" width="2.2" height="2.2"/><rect x="176.2" y="80.3" width="2.2" height="2.2"/><rect x="176.2" y="87.7" width="2.2" height="2.2"/><rect x="176.2" y="102.4" width="2.2" height="2.2"/><rect x="176.2" y="109.8" width="2.2" height="2.2"/><rect x="176.2" y="117.1" width="2.2" height="2.2"/><rect x="176.2" y="124.5" width="2.2" height="2.2"/><rect x="176.2" y="139.2" width="2.2" height="2.2"/><rect x="176.2" y="146.6" width="2.2" height="2.2"/><rect x="176.2" y="153.9" width="2.2" height="2.2"/><rect x="176.2" y="161.3" width="2.2" height="2.2"/><rect x="176.2" y="176.0" width="2.2" height="2.2"/><rect x="176.2" y="183.4" width="2.2" height="2.2"/><rect x="176.2" y="190.7" width="2.2" height="2.2"/><rect x="176.2" y="198.1" width="2.2" height="2.2"/><rect x="176.2" y="212.8" width="2.2" height="2.2"/><rect x="176.2" y="220.2" width="2.2" height="2.2"/><rect x="176.2" y="227.6" width="2.2" height="2.2"/><rect x="176.2" y="234.9" width="2.2" height="2.2"/><rect x="176.2" y="249.6" width="2.2" height="2.2"/><rect x="176.2" y="257.0" width="2.2" height="2.2"/><rect x="176.2" y="264.4" width="2.2" height="2.2"/><rect x="176.2" y="271.7" width="2.2" height="2.2"/><rect x="176.2" y="286.4" width="2.2" height="2.2"/><rect x="176.2" y="293.8" width="2.2" height="2.2"/><rect x="176.2" y="301.2" width="2.2" height="2.2"/><rect x="176.2" y="308.5" width="2.2" height="2.2"/><rect x="215.6" y="28.8" width="2.2" height="2.2"/><rect x="215.6" y="36.1" width="2.2" height="2.2"/><rect x="215.6" y="43.5" width="2.2" height="2.2"/><rect x="215.6" y="50.9" width="2.2" height="2.2"/><rect x="215.6" y="65.6" width="2.2" height="2.2"/><rect x="215.6" y="72.9" width="2.2" height="2.2"/><rect x="215.6" y="80.3" width="2.2" height="2.2"/><rect x="215.6" y="87.7" width="2.2" height="2.2"/><rect x="215.6" y="102.4" width="2.2" height="2.2"/><rect x="215.6" y="109.8" width="2.2" height="2.2"/><rect x="215.6" y="117.1" width="2.2" height="2.2"/><rect x="215.6" y="124.5" width="2.2" height="2.2"/><rect x="215.6" y="139.2" width="2.2" height="2.2"/><rect x="215.6" y="146.6" width="2.2" height="2.2"/><rect x="215.6" y="153.9" width="2.2" height="2.2"/><rect x="215.6" y="161.3" width="2.2" height="2.2"/><rect x="215.6" y="176.0" width="2.2" height="2.2"/><rect x="215.6" y="183.4" width="2.2" height="2.2"/><rect x="215.6" y="190.7" width="2.2" height="2.2"/><rect x="215.6" y="198.1" width="2.2" height="2.2"/><rect x="215.6" y="212.8" width="2.2" height="2.2"/><rect x="215.6" y="220.2" width="2.2" height="2.2"/><rect x="215.6" y="227.6" width="2.2" height="2.2"/><rect x="215.6" y="234.9" width="2.2" height="2.2"/><rect x="215.6" y="249.6" width="2.2" height="2.2"/><rect x="215.6" y="257.0" width="2.2" height="2.2"/><rect x="215.6" y="264.4" width="2.2" height="2.2"/><rect x="215.6" y="271.7" width="2.2" height="2.2"/><rect x="215.6" y="286.4" width="2.2" height="2.2"/><rect x="215.6" y="293.8" width="2.2" height="2.2"/><rect x="215.6" y="301.2" width="2.2" height="2.2"/><rect x="215.6" y="308.5" width="2.2" height="2.2"/><rect x="254.9" y="28.8" width="2.2" height="2.2"/><rect x="254.9" y="36.1" width="2.2" height="2.2"/><rect x="254.9" y="43.5" width="2.2" height="2.2"/><rect x="254.9" y="50.9" width="2.2" height="2.2"/><rect x="254.9" y="65.6" width="2.2" height="2.2"/><rect x="254.9" y="72.9" width="2.2" height="2.2"/><rect x="254.9" y="80.3" width="2.2" height="2.2"/><rect x="254.9" y="87.7" width="2.2" height="2.2"/><rect x="254.9" y="102.4" width="2.2" height="2.2"/><rect x="254.9" y="109.8" width="2.2" height="2.2"/><rect x="254.9" y="117.1" width="2.2" height="2.2"/><rect x="254.9" y="124.5" width="2.2" height="2.2"/><rect x="254.9" y="139.2" width="2.2" height="2.2"/><rect x="254.9" y="146.6" width="2.2" height="2.2"/><rect x="254.9" y="153.9" width="2.2" height="2.2"/><rect x="254.9" y="161.3" width="2.2" height="2.2"/><rect x="254.9" y="176.0" width="2.2" height="2.2"/><rect x="254.9" y="183.4" width="2.2" height="2.2"/><rect x="254.9" y="190.7" width="2.2" height="2.2"/><rect x="254.9" y="198.1" width="2.2" height="2.2"/><rect x="254.9" y="212.8" width="2.2" height="2.2"/><rect x="254.9" y="220.2" width="2.2" height="2.2"/><rect x="254.9" y="227.6" width="2.2" height="2.2"/><rect x="254.9" y="234.9" width="2.2" height="2.2"/><rect x="254.9" y="249.6" width="2.2" height="2.2"/><rect x="254.9" y="257.0" width="2.2" height="2.2"/><rect x="254.9" y="264.4" width="2.2" height="2.2"/><rect x="254.9" y="271.7" width="2.2" height="2.2"/><rect x="254.9" y="286.4" width="2.2" height="2.2"/><rect x="254.9" y="293.8" width="2.2" height="2.2"/><rect x="254.9" y="301.2" width="2.2" height="2.2"/><rect x="254.9" y="308.5" width="2.2" height="2.2"/><rect x="294.2" y="28.8" width="2.2" height="2.2"/><rect x="294.2" y="36.1" width="2.2" height="2.2"/><rect x="294.2" y="43.5" width="2.2" height="2.2"/><rect x="294.2" y="50.9" width="2.2" height="2.2"/><rect x="294.2" y="65.6" width="2.2" height="2.2"/><rect x="294.2" y="72.9" width="2.2" height="2.2"/><rect x="294.2" y="80.3" width="2.2" height="2.2"/><rect x="294.2" y="87.7" width="2.2" height="2.2"/><rect x="294.2" y="102.4" width="2.2" height="2.2"/><rect x="294.2" y="109.8" width="2.2" height="2.2"/><rect x="294.2" y="117.1" width="2.2" height="2.2"/><rect x="294.2" y="124.5" width="2.2" height="2.2"/><rect x="294.2" y="139.2" width="2.2" height="2.2"/><rect x="294.2" y="146.6" width="2.2" height="2.2"/><rect x="294.2" y="153.9" width="2.2" height="2.2"/><rect x="294.2" y="161.3" width="2.2" height="2.2"/><rect x="294.2" y="176.0" width="2.2" height="2.2"/><rect x="294.2" y="183.4" width="2.2" height="2.2"/><rect x="294.2" y="190.7" width="2.2" height="2.2"/><rect x="294.2" y="198.1" width="2.2" height="2.2"/><rect x="294.2" y="212.8" width="2.2" height="2.2"/><rect x="294.2" y="220.2" width="2.2" height="2.2"/><rect x="294.2" y="227.6" width="2.2" height="2.2"/><rect x="294.2" y="234.9" width="2.2" height="2.2"/><rect x="294.2" y="249.6" width="2.2" height="2.2"/><rect x="294.2" y="257.0" width="2.2" height="2.2"/><rect x="294.2" y="264.4" width="2.2" height="2.2"/><rect x="294.2" y="271.7" width="2.2" height="2.2"/><rect x="294.2" y="286.4" width="2.2" height="2.2"/><rect x="294.2" y="293.8" width="2.2" height="2.2"/><rect x="294.2" y="301.2" width="2.2" height="2.2"/><rect x="294.2" y="308.5" width="2.2" height="2.2"/><rect x="333.6" y="28.8" width="2.2" height="2.2"/><rect x="333.6" y="36.1" width="2.2" height="2.2"/><rect x="333.6" y="43.5" width="2.2" height="2.2"/><rect x="333.6" y="50.9" width="2.2" height="2.2"/><rect x="333.6" y="65.6" width="2.2" height="2.2"/><rect x="333.6" y="72.9" width="2.2" height="2.2"/><rect x="333.6" y="80.3" width="2.2" height="2.2"/><rect x="333.6" y="87.7" width="2.2" height="2.2"/><rect x="333.6" y="102.4" width="2.2" height="2.2"/><rect x="333.6" y="109.8" width="2.2" height="2.2"/><rect x="333.6" y="117.1" width="2.2" height="2.2"/><rect x="333.6" y="124.5" width="2.2" height="2.2"/><rect x="333.6" y="139.2" width="2.2" height="2.2"/><rect x="333.6" y="146.6" width="2.2" height="2.2"/><rect x="333.6" y="153.9" width="2.2" height="2.2"/><rect x="333.6" y="161.3" width="2.2" height="2.2"/><rect x="333.6" y="176.0" width="2.2" height="2.2"/><rect x="333.6" y="183.4" width="2.2" height="2.2"/><rect x="333.6" y="190.7" width="2.2" height="2.2"/><rect x="333.6" y="198.1" width="2.2" height="2.2"/><rect x="333.6" y="212.8" width="2.2" height="2.2"/><rect x="333.6" y="220.2" width="2.2" height="2.2"/><rect x="333.6" y="227.6" width="2.2" height="2.2"/><rect x="333.6" y="234.9" width="2.2" height="2.2"/><rect x="333.6" y="249.6" width="2.2" height="2.2"/><rect x="333.6" y="257.0" width="2.2" height="2.2"/><rect x="333.6" y="264.4" width="2.2" height="2.2"/><rect x="333.6" y="271.7" width="2.2" height="2.2"/><rect x="333.6" y="286.4" width="2.2" height="2.2"/><rect x="333.6" y="293.8" width="2.2" height="2.2"/><rect x="333.6" y="301.2" width="2.2" height="2.2"/><rect x="333.6" y="308.5" width="2.2" height="2.2"/><rect x="372.9" y="28.8" width="2.2" height="2.2"/><rect x="372.9" y="36.1" width="2.2" height="2.2"/><rect x="372.9" y="43.5" width="2.2" height="2.2"/><rect x="372.9" y="50.9" width="2.2" height="2.2"/><rect x="372.9" y="65.6" width="2.2" height="2.2"/><rect x="372.9" y="72.9" width="2.2" height="2.2"/><rect x="372.9" y="80.3" width="2.2" height="2.2"/><rect x="372.9" y="87.7" width="2.2" height="2.2"/><rect x="372.9" y="102.4" width="2.2" height="2.2"/><rect x="372.9" y="109.8" width="2.2" height="2.2"/><rect x="372.9" y="117.1" width="2.2" height="2.2"/><rect x="372.9" y="124.5" width="2.2" height="2.2"/><rect x="372.9" y="139.2" width="2.2" height="2.2"/><rect x="372.9" y="146.6" width="2.2" height="2.2"/><rect x="372.9" y="153.9" width="2.2" height="2.2"/><rect x="372.9" y="161.3" width="2.2" height="2.2"/><rect x="372.9" y="176.0" width="2.2" height="2.2"/><rect x="372.9" y="183.4" width="2.2" height="2.2"/><rect x="372.9" y="190.7" width="2.2" height="2.2"/><rect x="372.9" y="198.1" width="2.2" height="2.2"/><rect x="372.9" y="212.8" width="2.2" height="2.2"/><rect x="372.9" y="220.2" width="2.2" height="2.2"/><rect x="372.9" y="227.6" width="2.2" height="2.2"/><rect x="372.9" y="234.9" width="2.2" height="2.2"/><rect x="372.9" y="249.6" width="2.2" height="2.2"/><rect x="372.9" y="257.0" width="2.2" height="2.2"/><rect x="372.9" y="264.4" width="2.2" height="2.2"/><rect x="372.9" y="271.7" width="2.2" height="2.2"/><rect x="372.9" y="286.4" width="2.2" height="2.2"/><rect x="372.9" y="293.8" width="2.2" height="2.2"/><rect x="372.9" y="301.2" width="2.2" height="2.2"/><rect x="372.9" y="308.5" width="2.2" height="2.2"/><rect x="412.2" y="28.8" width="2.2" height="2.2"/><rect x="412.2" y="36.1" width="2.2" height="2.2"/><rect x="412.2" y="43.5" width="2.2" height="2.2"/><rect x="412.2" y="50.9" width="2.2" height="2.2"/><rect x="412.2" y="65.6" width="2.2" height="2.2"/><rect x="412.2" y="72.9" width="2.2" height="2.2"/><rect x="412.2" y="80.3" width="2.2" height="2.2"/><rect x="412.2" y="87.7" width="2.2" height="2.2"/><rect x="412.2" y="102.4" width="2.2" height="2.2"/><rect x="412.2" y="109.8" width="2.2" height="2.2"/><rect x="412.2" y="117.1" width="2.2" height="2.2"/><rect x="412.2" y="124.5" width="2.2" height="2.2"/><rect x="412.2" y="139.2" width="2.2" height="2.2"/><rect x="412.2" y="146.6" width="2.2" height="2.2"/><rect x="412.2" y="153.9" width="2.2" height="2.2"/><rect x="412.2" y="161.3" width="2.2" height="2.2"/><rect x="412.2" y="176.0" width="2.2" height="2.2"/><rect x="412.2" y="183.4" width="2.2" height="2.2"/><rect x="412.2" y="190.7" width="2.2" height="2.2"/><rect x="412.2" y="198.1" width="2.2" height="2.2"/><rect x="412.2" y="212.8" width="2.2" height="2.2"/><rect x="412.2" y="220.2" width="2.2" height="2.2"/><rect x="412.2" y="227.6" width="2.2" height="2.2"/><rect x="412.2" y="234.9" width="2.2" height="2.2"/><rect x="412.2" y="249.6" width="2.2" height="2.2"/><rect x="412.2" y="257.0" width="2.2" height="2.2"/><rect x="412.2" y="264.4" width="2.2" height="2.2"/><rect x="412.2" y="271.7" width="2.2" height="2.2"/><rect x="412.2" y="286.4" width="2.2" height="2.2"/><rect x="412.2" y="293.8" width="2.2" height="2.2"/><rect x="412.2" y="301.2" width="2.2" height="2.2"/><rect x="412.2" y="308.5" width="2.2" height="2.2"/><rect x="451.6" y="28.8" width="2.2" height="2.2"/><rect x="451.6" y="36.1" width="2.2" height="2.2"/><rect x="451.6" y="43.5" width="2.2" height="2.2"/><rect x="451.6" y="50.9" width="2.2" height="2.2"/><rect x="451.6" y="65.6" width="2.2" height="2.2"/><rect x="451.6" y="72.9" width="2.2" height="2.2"/><rect x="451.6" y="80.3" width="2.2" height="2.2"/><rect x="451.6" y="87.7" width="2.2" height="2.2"/><rect x="451.6" y="102.4" width="2.2" height="2.2"/><rect x="451.6" y="109.8" width="2.2" height="2.2"/><rect x="451.6" y="117.1" width="2.2" height="2.2"/><rect x="451.6" y="124.5" width="2.2" height="2.2"/><rect x="451.6" y="139.2" width="2.2" height="2.2"/><rect x="451.6" y="146.6" width="2.2" height="2.2"/><rect x="451.6" y="153.9" width="2.2" height="2.2"/><rect x="451.6" y="161.3" width="2.2" height="2.2"/><rect x="451.6" y="176.0" width="2.2" height="2.2"/><rect x="451.6" y="183.4" width="2.2" height="2.2"/><rect x="451.6" y="190.7" width="2.2" height="2.2"/><rect x="451.6" y="198.1" width="2.2" height="2.2"/><rect x="451.6" y="212.8" width="2.2" height="2.2"/><rect x="451.6" y="220.2" width="2.2" height="2.2"/><rect x="451.6" y="227.6" width="2.2" height="2.2"/><rect x="451.6" y="234.9" width="2.2" height="2.2"/><rect x="451.6" y="249.6" width="2.2" height="2.2"/><rect x="451.6" y="257.0" width="2.2" height="2.2"/><rect x="451.6" y="264.4" width="2.2" height="2.2"/><rect x="451.6" y="271.7" width="2.2" height="2.2"/><rect x="451.6" y="286.4" width="2.2" height="2.2"/><rect x="451.6" y="293.8" width="2.2" height="2.2"/><rect x="451.6" y="301.2" width="2.2" height="2.2"/><rect x="451.6" y="308.5" width="2.2" height="2.2"/></g><g fill="#6a6a6a"><rect x="253.5" y="29.2" width="5" height="1.4"/><rect x="253.5" y="36.5" width="5" height="1.4"/><rect x="253.5" y="43.9" width="5" height="1.4"/><rect x="253.5" y="51.2" width="5" height="1.4"/><rect x="253.5" y="58.6" width="5" height="1.4"/><rect x="253.5" y="66.0" width="5" height="1.4"/><rect x="253.5" y="73.3" width="5" height="1.4"/><rect x="253.5" y="80.7" width="5" height="1.4"/><rect x="253.5" y="88.1" width="5" height="1.4"/><rect x="253.5" y="95.4" width="5" height="1.4"/><rect x="253.5" y="102.8" width="5" height="1.4"/><rect x="253.5" y="110.1" width="5" height="1.4"/><rect x="253.5" y="117.5" width="5" height="1.4"/><rect x="253.5" y="124.9" width="5" height="1.4"/><rect x="253.5" y="132.2" width="5" height="1.4"/><rect x="253.5" y="139.6" width="5" height="1.4"/><rect x="253.5" y="147.0" width="5" height="1.4"/><rect x="253.5" y="154.3" width="5" height="1.4"/><rect x="253.5" y="161.7" width="5" height="1.4"/><rect x="253.5" y="169.1" width="5" height="1.4"/><rect x="253.5" y="176.4" width="5" height="1.4"/><rect x="253.5" y="183.8" width="5" height="1.4"/><rect x="253.5" y="191.1" width="5" height="1.4"/><rect x="253.5" y="198.5" width="5" height="1.4"/><rect x="253.5" y="205.9" width="5" height="1.4"/><rect x="253.5" y="213.2" width="5" height="1.4"/><rect x="253.5" y="220.6" width="5" height="1.4"/><rect x="253.5" y="228.0" width="5" height="1.4"/><rect x="253.5" y="235.3" width="5" height="1.4"/><rect x="253.5" y="242.7" width="5" height="1.4"/><rect x="253.5" y="250.0" width="5" height="1.4"/><rect x="253.5" y="257.4" width="5" height="1.4"/><rect x="253.5" y="264.8" width="5" height="1.4"/><rect x="253.5" y="272.1" width="5" height="1.4"/><rect x="253.5" y="279.5" width="5" height="1.4"/><rect x="253.5" y="286.9" width="5" height="1.4"/><rect x="253.5" y="294.2" width="5" height="1.4"/><rect x="253.5" y="301.6" width="5" height="1.4"/><rect x="253.5" y="308.9" width="5" height="1.4"/><rect x="27.2" y="167.2" width="1.4" height="5"/><rect x="35.0" y="167.2" width="1.4" height="5"/><rect x="42.9" y="167.2" width="1.4" height="5"/><rect x="50.8" y="167.2" width="1.4" height="5"/><rect x="58.6" y="167.2" width="1.4" height="5"/><rect x="66.5" y="167.2" width="1.4" height="5"/><rect x="74.4" y="167.2" width="1.4" height="5"/><rect x="82.2" y="167.2" width="1.4" height="5"/><rect x="90.1" y="167.2" width="1.4" height="5"/><rect x="98.0" y="167.2" width="1.4" height="5"/><rect x="105.8" y="167.2" width="1.4" height="5"/><rect x="113.7" y="167.2" width="1.4" height="5"/><rect x="121.6" y="167.2" width="1.4" height="5"/><rect x="129.4" y="167.2" width="1.4" height="5"/><rect x="137.3" y="167.2" width="1.4" height="5"/><rect x="145.2" y="167.2" width="1.4" height="5"/><rect x="153.0" y="167.2" width="1.4" height="5"/><rect x="160.9" y="167.2" width="1.4" height="5"/><rect x="168.8" y="167.2" width="1.4" height="5"/><rect x="176.6" y="167.2" width="1.4" height="5"/><rect x="184.5" y="167.2" width="1.4" height="5"/><rect x="192.4" y="167.2" width="1.4" height="5"/><rect x="200.2" y="167.2" width="1.4" height="5"/><rect x="208.1" y="167.2" width="1.4" height="5"/><rect x="216.0" y="167.2" width="1.4" height="5"/><rect x="223.8" y="167.2" width="1.4" height="5"/><rect x="231.7" y="167.2" width="1.4" height="5"/><rect x="239.6" y="167.2" width="1.4" height="5"/><rect x="247.4" y="167.2" width="1.4" height="5"/><rect x="255.3" y="167.2" width="1.4" height="5"/><rect x="263.2" y="167.2" width="1.4" height="5"/><rect x="271.0" y="167.2" width="1.4" height="5"/><rect x="278.9" y="167.2" width="1.4" height="5"/><rect x="286.8" y="167.2" width="1.4" height="5"/><rect x="294.6" y="167.2" width="1.4" height="5"/><rect x="302.5" y="167.2" width="1.4" height="5"/><rect x="310.4" y="167.2" width="1.4" height="5"/><rect x="318.2" y="167.2" width="1.4" height="5"/><rect x="326.1" y="167.2" width="1.4" height="5"/><rect x="334.0" y="167.2" width="1.4" height="5"/><rect x="341.8" y="167.2" width="1.4" height="5"/><rect x="349.7" y="167.2" width="1.4" height="5"/><rect x="357.6" y="167.2" width="1.4" height="5"/><rect x="365.4" y="167.2" width="1.4" height="5"/><rect x="373.3" y="167.2" width="1.4" height="5"/><rect x="381.2" y="167.2" width="1.4" height="5"/><rect x="389.0" y="167.2" width="1.4" height="5"/><rect x="396.9" y="167.2" width="1.4" height="5"/><rect x="404.8" y="167.2" width="1.4" height="5"/><rect x="412.6" y="167.2" width="1.4" height="5"/><rect x="420.5" y="167.2" width="1.4" height="5"/><rect x="428.4" y="167.2" width="1.4" height="5"/><rect x="436.2" y="167.2" width="1.4" height="5"/><rect x="444.1" y="167.2" width="1.4" height="5"/><rect x="452.0" y="167.2" width="1.4" height="5"/><rect x="459.8" y="167.2" width="1.4" height="5"/><rect x="467.7" y="167.2" width="1.4" height="5"/><rect x="475.6" y="167.2" width="1.4" height="5"/><rect x="483.4" y="167.2" width="1.4" height="5"/><rect x="27.3" y="22.5" width="1.2" height="2.5"/><rect x="27.3" y="314.5" width="1.2" height="2.5"/><rect x="35.1" y="22.5" width="1.2" height="2.5"/><rect x="35.1" y="314.5" width="1.2" height="2.5"/><rect x="43.0" y="22.5" width="1.2" height="2.5"/><rect x="43.0" y="314.5" width="1.2" height="2.5"/><rect x="50.9" y="22.5" width="1.2" height="2.5"/><rect x="50.9" y="314.5" width="1.2" height="2.5"/><rect x="58.7" y="22.5" width="1.2" height="2.5"/><rect x="58.7" y="314.5" width="1.2" height="2.5"/><rect x="66.6" y="22.5" width="1.2" height="2.5"/><rect x="66.6" y="314.5" width="1.2" height="2.5"/><rect x="74.5" y="22.5" width="1.2" height="2.5"/><rect x="74.5" y="314.5" width="1.2" height="2.5"/><rect x="82.3" y="22.5" width="1.2" height="2.5"/><rect x="82.3" y="314.5" width="1.2" height="2.5"/><rect x="90.2" y="22.5" width="1.2" height="2.5"/><rect x="90.2" y="314.5" width="1.2" height="2.5"/><rect x="98.1" y="22.5" width="1.2" height="2.5"/><rect x="98.1" y="314.5" width="1.2" height="2.5"/><rect x="105.9" y="22.5" width="1.2" height="2.5"/><rect x="105.9" y="314.5" width="1.2" height="2.5"/><rect x="113.8" y="22.5" width="1.2" height="2.5"/><rect x="113.8" y="314.5" width="1.2" height="2.5"/><rect x="121.7" y="22.5" width="1.2" height="2.5"/><rect x="121.7" y="314.5" width="1.2" height="2.5"/><rect x="129.5" y="22.5" width="1.2" height="2.5"/><rect x="129.5" y="314.5" width="1.2" height="2.5"/><rect x="137.4" y="22.5" width="1.2" height="2.5"/><rect x="137.4" y="314.5" width="1.2" height="2.5"/><rect x="145.3" y="22.5" width="1.2" height="2.5"/><rect x="145.3" y="314.5" width="1.2" height="2.5"/><rect x="153.1" y="22.5" width="1.2" height="2.5"/><rect x="153.1" y="314.5" width="1.2" height="2.5"/><rect x="161.0" y="22.5" width="1.2" height="2.5"/><rect x="161.0" y="314.5" width="1.2" height="2.5"/><rect x="168.9" y="22.5" width="1.2" height="2.5"/><rect x="168.9" y="314.5" width="1.2" height="2.5"/><rect x="176.7" y="22.5" width="1.2" height="2.5"/><rect x="176.7" y="314.5" width="1.2" height="2.5"/><rect x="184.6" y="22.5" width="1.2" height="2.5"/><rect x="184.6" y="314.5" width="1.2" height="2.5"/><rect x="192.5" y="22.5" width="1.2" height="2.5"/><rect x="192.5" y="314.5" width="1.2" height="2.5"/><rect x="200.3" y="22.5" width="1.2" height="2.5"/><rect x="200.3" y="314.5" width="1.2" height="2.5"/><rect x="208.2" y="22.5" width="1.2" height="2.5"/><rect x="208.2" y="314.5" width="1.2" height="2.5"/><rect x="216.1" y="22.5" width="1.2" height="2.5"/><rect x="216.1" y="314.5" width="1.2" height="2.5"/><rect x="223.9" y="22.5" width="1.2" height="2.5"/><rect x="223.9" y="314.5" width="1.2" height="2.5"/><rect x="231.8" y="22.5" width="1.2" height="2.5"/><rect x="231.8" y="314.5" width="1.2" height="2.5"/><rect x="239.7" y="22.5" width="1.2" height="2.5"/><rect x="239.7" y="314.5" width="1.2" height="2.5"/><rect x="247.5" y="22.5" width="1.2" height="2.5"/><rect x="247.5" y="314.5" width="1.2" height="2.5"/><rect x="255.4" y="22.5" width="1.2" height="2.5"/><rect x="255.4" y="314.5" width="1.2" height="2.5"/><rect x="263.3" y="22.5" width="1.2" height="2.5"/><rect x="263.3" y="314.5" width="1.2" height="2.5"/><rect x="271.1" y="22.5" width="1.2" height="2.5"/><rect x="271.1" y="314.5" width="1.2" height="2.5"/><rect x="279.0" y="22.5" width="1.2" height="2.5"/><rect x="279.0" y="314.5" width="1.2" height="2.5"/><rect x="286.9" y="22.5" width="1.2" height="2.5"/><rect x="286.9" y="314.5" width="1.2" height="2.5"/><rect x="294.7" y="22.5" width="1.2" height="2.5"/><rect x="294.7" y="314.5" width="1.2" height="2.5"/><rect x="302.6" y="22.5" width="1.2" height="2.5"/><rect x="302.6" y="314.5" width="1.2" height="2.5"/><rect x="310.5" y="22.5" width="1.2" height="2.5"/><rect x="310.5" y="314.5" width="1.2" height="2.5"/><rect x="318.3" y="22.5" width="1.2" height="2.5"/><rect x="318.3" y="314.5" width="1.2" height="2.5"/><rect x="326.2" y="22.5" width="1.2" height="2.5"/><rect x="326.2" y="314.5" width="1.2" height="2.5"/><rect x="334.1" y="22.5" width="1.2" height="2.5"/><rect x="334.1" y="314.5" width="1.2" height="2.5"/><rect x="341.9" y="22.5" width="1.2" height="2.5"/><rect x="341.9" y="314.5" width="1.2" height="2.5"/><rect x="349.8" y="22.5" width="1.2" height="2.5"/><rect x="349.8" y="314.5" width="1.2" height="2.5"/><rect x="357.7" y="22.5" width="1.2" height="2.5"/><rect x="357.7" y="314.5" width="1.2" height="2.5"/><rect x="365.5" y="22.5" width="1.2" height="2.5"/><rect x="365.5" y="314.5" width="1.2" height="2.5"/><rect x="373.4" y="22.5" width="1.2" height="2.5"/><rect x="373.4" y="314.5" width="1.2" height="2.5"/><rect x="381.3" y="22.5" width="1.2" height="2.5"/><rect x="381.3" y="314.5" width="1.2" height="2.5"/><rect x="389.1" y="22.5" width="1.2" height="2.5"/><rect x="389.1" y="314.5" width="1.2" height="2.5"/><rect x="397.0" y="22.5" width="1.2" height="2.5"/><rect x="397.0" y="314.5" width="1.2" height="2.5"/><rect x="404.9" y="22.5" width="1.2" height="2.5"/><rect x="404.9" y="314.5" width="1.2" height="2.5"/><rect x="412.7" y="22.5" width="1.2" height="2.5"/><rect x="412.7" y="314.5" width="1.2" height="2.5"/><rect x="420.6" y="22.5" width="1.2" height="2.5"/><rect x="420.6" y="314.5" width="1.2" height="2.5"/><rect x="428.5" y="22.5" width="1.2" height="2.5"/><rect x="428.5" y="314.5" width="1.2" height="2.5"/><rect x="436.3" y="22.5" width="1.2" height="2.5"/><rect x="436.3" y="314.5" width="1.2" height="2.5"/><rect x="444.2" y="22.5" width="1.2" height="2.5"/><rect x="444.2" y="314.5" width="1.2" height="2.5"/><rect x="452.1" y="22.5" width="1.2" height="2.5"/><rect x="452.1" y="314.5" width="1.2" height="2.5"/><rect x="459.9" y="22.5" width="1.2" height="2.5"/><rect x="459.9" y="314.5" width="1.2" height="2.5"/><rect x="467.8" y="22.5" width="1.2" height="2.5"/><rect x="467.8" y="314.5" width="1.2" height="2.5"/><rect x="475.7" y="22.5" width="1.2" height="2.5"/><rect x="475.7" y="314.5" width="1.2" height="2.5"/><rect x="483.5" y="22.5" width="1.2" height="2.5"/><rect x="483.5" y="314.5" width="1.2" height="2.5"/><rect x="20.0" y="29.3" width="2.5" height="1.2"/><rect x="489.5" y="29.3" width="2.5" height="1.2"/><rect x="20.0" y="36.6" width="2.5" height="1.2"/><rect x="489.5" y="36.6" width="2.5" height="1.2"/><rect x="20.0" y="44.0" width="2.5" height="1.2"/><rect x="489.5" y="44.0" width="2.5" height="1.2"/><rect x="20.0" y="51.4" width="2.5" height="1.2"/><rect x="489.5" y="51.4" width="2.5" height="1.2"/><rect x="20.0" y="58.7" width="2.5" height="1.2"/><rect x="489.5" y="58.7" width="2.5" height="1.2"/><rect x="20.0" y="66.1" width="2.5" height="1.2"/><rect x="489.5" y="66.1" width="2.5" height="1.2"/><rect x="20.0" y="73.4" width="2.5" height="1.2"/><rect x="489.5" y="73.4" width="2.5" height="1.2"/><rect x="20.0" y="80.8" width="2.5" height="1.2"/><rect x="489.5" y="80.8" width="2.5" height="1.2"/><rect x="20.0" y="88.2" width="2.5" height="1.2"/><rect x="489.5" y="88.2" width="2.5" height="1.2"/><rect x="20.0" y="95.5" width="2.5" height="1.2"/><rect x="489.5" y="95.5" width="2.5" height="1.2"/><rect x="20.0" y="102.9" width="2.5" height="1.2"/><rect x="489.5" y="102.9" width="2.5" height="1.2"/><rect x="20.0" y="110.2" width="2.5" height="1.2"/><rect x="489.5" y="110.2" width="2.5" height="1.2"/><rect x="20.0" y="117.6" width="2.5" height="1.2"/><rect x="489.5" y="117.6" width="2.5" height="1.2"/><rect x="20.0" y="125.0" width="2.5" height="1.2"/><rect x="489.5" y="125.0" width="2.5" height="1.2"/><rect x="20.0" y="132.3" width="2.5" height="1.2"/><rect x="489.5" y="132.3" width="2.5" height="1.2"/><rect x="20.0" y="139.7" width="2.5" height="1.2"/><rect x="489.5" y="139.7" width="2.5" height="1.2"/><rect x="20.0" y="147.1" width="2.5" height="1.2"/><rect x="489.5" y="147.1" width="2.5" height="1.2"/><rect x="20.0" y="154.4" width="2.5" height="1.2"/><rect x="489.5" y="154.4" width="2.5" height="1.2"/><rect x="20.0" y="161.8" width="2.5" height="1.2"/><rect x="489.5" y="161.8" width="2.5" height="1.2"/><rect x="20.0" y="169.2" width="2.5" height="1.2"/><rect x="489.5" y="169.2" width="2.5" height="1.2"/><rect x="20.0" y="176.5" width="2.5" height="1.2"/><rect x="489.5" y="176.5" width="2.5" height="1.2"/><rect x="20.0" y="183.9" width="2.5" height="1.2"/><rect x="489.5" y="183.9" width="2.5" height="1.2"/><rect x="20.0" y="191.2" width="2.5" height="1.2"/><rect x="489.5" y="191.2" width="2.5" height="1.2"/><rect x="20.0" y="198.6" width="2.5" height="1.2"/><rect x="489.5" y="198.6" width="2.5" height="1.2"/><rect x="20.0" y="206.0" width="2.5" height="1.2"/><rect x="489.5" y="206.0" width="2.5" height="1.2"/><rect x="20.0" y="213.3" width="2.5" height="1.2"/><rect x="489.5" y="213.3" width="2.5" height="1.2"/><rect x="20.0" y="220.7" width="2.5" height="1.2"/><rect x="489.5" y="220.7" width="2.5" height="1.2"/><rect x="20.0" y="228.1" width="2.5" height="1.2"/><rect x="489.5" y="228.1" width="2.5" height="1.2"/><rect x="20.0" y="235.4" width="2.5" height="1.2"/><rect x="489.5" y="235.4" width="2.5" height="1.2"/><rect x="20.0" y="242.8" width="2.5" height="1.2"/><rect x="489.5" y="242.8" width="2.5" height="1.2"/><rect x="20.0" y="250.1" width="2.5" height="1.2"/><rect x="489.5" y="250.1" width="2.5" height="1.2"/><rect x="20.0" y="257.5" width="2.5" height="1.2"/><rect x="489.5" y="257.5" width="2.5" height="1.2"/><rect x="20.0" y="264.9" width="2.5" height="1.2"/><rect x="489.5" y="264.9" width="2.5" height="1.2"/><rect x="20.0" y="272.2" width="2.5" height="1.2"/><rect x="489.5" y="272.2" width="2.5" height="1.2"/><rect x="20.0" y="279.6" width="2.5" height="1.2"/><rect x="489.5" y="279.6" width="2.5" height="1.2"/><rect x="20.0" y="286.9" width="2.5" height="1.2"/><rect x="489.5" y="286.9" width="2.5" height="1.2"/><rect x="20.0" y="294.3" width="2.5" height="1.2"/><rect x="489.5" y="294.3" width="2.5" height="1.2"/><rect x="20.0" y="301.7" width="2.5" height="1.2"/><rect x="489.5" y="301.7" width="2.5" height="1.2"/><rect x="20.0" y="309.0" width="2.5" height="1.2"/><rect x="489.5" y="309.0" width="2.5" height="1.2"/></g><rect x="367.5" y="28" width="118" height="15" rx="6" fill="#4a4a4a" stroke="#6a6a6a" stroke-width="0.8"/><rect x="371" y="29.5" width="13" height="12" rx="3" fill="#f08a18"/><path d="M374,32 h7 v1.8 h-2.5 v5 h-2 v-5 h-2.5z" fill="#5a3000"/><text x="387.5" y="39" fill="#e4e4e4" stroke="#e4e4e4" stroke-width="0.35" style="font-family:&quot;Liberation Mono&quot;,monospace;font-weight:normal;font-size:13px" textLength="37" lengthAdjust="spacingAndGlyphs">&lt;5Hz</text><path d="M251,22.8 h10.6 l-5.3,5.9z" fill="#f08a18"/><g transform="translate(-8.0,0)"><path d="M188.6,28.7 h11.7 v9 l-5.85,6.6 l-5.85,-6.6z" fill="#f08a18"/><path d="M191.5,31.5 h6 v1.8 h-2 v6 h-2 v-6 h-2z" fill="#6a3000"/></g><text x="45.4" y="53.8" fill="#ffff00" stroke="#ffff00" stroke-width="0.5" style="font-family:&quot;Liberation Serif&quot;,serif;font-weight:bold;font-size:16.5px" textLength="42.8" lengthAdjust="spacing">Loop</text><text x="100.3" y="53.8" fill="#ffff00" stroke="#ffff00" stroke-width="0.5" style="font-family:&quot;Liberation Serif&quot;,serif;font-weight:bold;font-size:16.5px">2</text><path d="M0,162.0 h12 l5,6.2 l-5,6.2 h-12z" fill="#f2ee1a"/><text x="7.5" y="172.4" fill="#222" text-anchor="middle" style="font-family:&quot;Liberation Mono&quot;,monospace;font-weight:bold;font-size:10px">1</text><path d="M19.9,164.3C20.4,164.5 22.0,165.3 23.0,165.5C24.0,165.8 25.0,165.7 26.1,165.7C27.1,165.7 28.1,165.7 29.1,165.6C30.2,165.5 31.2,165.1 32.2,165.0C33.2,165.0 34.2,165.4 35.3,165.3C36.3,165.2 37.3,164.3 38.3,164.4C39.4,164.4 40.4,165.4 41.4,165.5C42.4,165.6 43.4,165.2 44.5,165.0C45.5,164.9 46.5,164.6 47.5,164.5C48.6,164.3 49.6,163.9 50.6,164.1C51.6,164.3 52.6,165.2 53.7,165.5C54.7,165.8 55.7,166.0 56.7,165.8C57.8,165.5 58.8,164.2 59.8,164.1C60.8,164.1 61.8,165.3 62.9,165.4C63.9,165.5 64.9,164.9 65.9,164.7C67.0,164.5 68.0,164.3 69.0,164.2C70.0,164.2 71.1,164.3 72.1,164.5C73.1,164.7 74.1,165.2 75.1,165.4C76.2,165.6 77.2,165.8 78.2,165.6C79.2,165.3 80.3,164.1 81.3,164.0C82.3,164.0 83.3,165.1 84.3,165.1C85.4,165.1 86.4,164.0 87.4,164.1C88.4,164.1 89.5,165.2 90.5,165.3C91.5,165.4 92.5,164.5 93.5,164.6C94.6,164.6 95.6,165.4 96.6,165.6C97.6,165.8 98.7,165.9 99.7,165.8C100.7,165.7 101.7,164.9 102.7,164.9C103.8,164.9 104.8,165.9 105.8,165.8C106.8,165.7 107.9,164.8 108.9,164.5C109.9,164.3 110.9,164.0 111.9,164.1C113.0,164.2 114.0,165.1 115.0,165.1C116.0,165.1 117.1,164.1 118.1,164.0C119.1,163.9 120.1,164.2 121.1,164.3C122.2,164.4 123.2,164.6 124.2,164.7C125.2,164.8 126.3,165.2 127.3,165.1C128.3,165.0 129.3,164.4 130.3,164.3C131.4,164.1 132.4,163.8 133.4,164.0C134.4,164.3 135.5,165.5 136.5,165.6C137.5,165.6 138.5,164.5 139.5,164.5C140.6,164.6 141.6,165.5 142.6,165.7C143.6,165.9 144.7,165.8 145.7,165.6C146.7,165.4 147.7,164.8 148.7,164.7C149.8,164.5 150.8,164.8 151.8,164.8C152.8,164.9 153.9,164.9 154.9,164.9C155.9,165.0 156.9,165.1 157.9,165.1C159.0,165.2 160.0,165.1 161.0,165.1C162.0,165.0 163.1,165.0 164.1,165.0C165.1,165.0 166.1,165.0 167.1,165.1C168.2,165.2 169.2,165.7 170.2,165.7C171.2,165.7 172.3,165.1 173.3,164.9C174.3,164.7 175.3,164.7 176.3,164.8C177.4,164.8 178.4,165.3 179.4,165.3C180.4,165.2 181.8,164.5 182.5,164.4C183.1,164.3 183.1,166.4 183.4,164.6C183.7,162.8 183.9,161.4 184.2,153.5C184.5,145.6 184.6,128.4 185.0,117.0C185.4,105.7 186.1,94.4 186.7,85.4C187.2,76.4 187.7,68.8 188.2,63.2C188.7,57.7 189.2,52.9 189.8,52.1C190.5,51.3 191.5,55.6 192.2,58.5C192.9,61.4 193.3,64.5 193.8,69.5C194.4,74.5 194.7,80.6 195.4,88.5C196.0,96.5 196.9,108.3 197.8,117.0C198.8,125.8 200.1,132.7 201.0,140.9C201.9,149.1 202.6,158.3 203.3,166.2C204.1,174.1 205.0,180.7 205.7,188.4C206.4,196.0 206.7,205.3 207.3,212.1C208.0,219.0 208.9,226.2 209.7,229.5C210.5,232.8 211.3,234.9 212.1,232.0C212.9,229.1 213.8,219.4 214.5,212.1C215.1,204.9 215.6,197.6 216.1,188.4C216.6,179.2 217.1,166.0 217.7,156.7C218.2,147.5 218.8,140.8 219.3,132.9C219.8,125.0 220.0,115.3 220.8,109.2C221.6,103.1 222.9,98.7 224.0,96.5C225.0,94.2 226.1,93.6 227.2,95.7C228.2,97.8 229.4,104.3 230.4,109.2C231.5,114.1 232.8,119.2 233.6,125.0C234.4,130.8 234.5,136.1 235.1,144.0C235.8,151.9 236.6,164.3 237.6,172.5C238.5,180.7 239.7,187.5 240.8,193.1C241.8,198.6 242.9,205.0 243.9,205.8C245.0,206.6 246.2,202.1 247.1,197.9C248.0,193.6 248.6,186.8 249.4,180.5C250.2,174.1 251.1,165.4 251.9,159.9C252.7,154.4 253.2,150.6 254.2,147.2C255.3,143.8 256.8,139.5 258.0,139.5C259.3,139.6 260.4,142.8 261.7,147.6C263.0,152.3 264.4,160.3 265.8,167.9C267.2,175.6 268.4,186.4 269.9,193.4C271.4,200.3 273.1,209.7 274.6,209.7C276.1,209.7 277.7,200.3 279.1,193.4C280.5,186.4 282.0,175.1 283.2,167.9C284.4,160.8 285.0,154.4 286.2,150.6C287.5,146.9 289.2,144.9 290.5,145.2C291.9,145.6 293.1,148.0 294.4,152.7C295.8,157.3 297.2,165.4 298.5,173.0C299.9,180.7 301.3,192.1 302.6,198.5C303.9,204.9 305.2,211.8 306.4,211.3C307.6,210.8 308.5,202.6 309.8,195.4C311.0,188.2 312.7,175.9 313.8,167.9C315.0,160.0 315.9,152.5 316.9,147.6C317.9,142.7 318.6,138.9 319.8,138.4C321.0,137.9 322.5,141.1 324.1,144.5C325.6,147.9 327.5,153.7 329.2,158.8C330.9,163.9 332.5,170.4 334.3,175.1C336.1,179.7 338.5,187.3 340.2,186.8C341.9,186.3 343.1,176.8 344.5,172.0C345.9,167.2 347.1,161.5 348.6,157.8C350.1,154.0 352.0,151.4 353.7,149.6C355.4,147.8 357.3,147.6 358.8,147.1C360.4,146.6 361.6,146.3 362.9,146.6C364.3,146.8 365.9,147.4 367.0,148.6C368.1,149.8 368.8,151.2 369.6,153.7C370.3,156.2 370.3,161.6 371.6,163.7C372.9,165.7 374.6,165.1 377.2,165.9C379.9,166.7 383.4,167.8 387.5,168.4C391.5,169.1 398.5,170.1 401.8,169.7C405.0,169.2 405.1,167.2 406.9,165.9C408.7,164.6 410.8,162.2 412.5,161.8C414.2,161.5 415.3,162.6 417.1,163.9C418.9,165.2 420.5,169.0 423.2,169.7C426.0,170.3 430.6,168.9 433.5,167.9C436.4,167.0 438.1,164.9 440.6,163.9C443.1,162.8 446.1,161.8 448.3,161.8C450.5,161.8 451.8,162.7 453.9,163.9C456.0,165.1 458.7,167.6 461.1,169.0C463.4,170.3 465.8,171.8 468.0,171.8C470.2,171.8 472.1,169.9 474.4,169.0C476.6,168.0 479.3,166.9 481.5,165.9C483.7,164.9 485.9,163.5 487.6,162.8C489.4,162.2 491.5,162.0 492.2,161.8" stroke="#80802a" stroke-width="1.15" fill="none" stroke-linejoin="round"/><text x="26.3" y="312.3" fill="#d4d468" stroke="#d4d468" stroke-width="0.35" style="font-family:&quot;Liberation Mono&quot;,monospace;font-weight:normal;font-size:14px" textLength="134" lengthAdjust="spacingAndGlyphs">Fall(1)=5.200ns</text><rect x="3" y="322.5" width="131" height="19" fill="#0a0a0a"/><rect x="6.3" y="326.9" width="43" height="10.2" fill="#e8e41c"/><text x="7.5" y="336" fill="#2a2a00" style="font-family:&quot;Liberation Mono&quot;,monospace;font-weight:bold;font-size:11px" textLength="22" lengthAdjust="spacingAndGlyphs">CH1</text><rect x="31" y="329" width="16" height="6" fill="#6a6a10"/><rect x="32" y="331.5" width="14" height="2.5" fill="#e8e41c"/><text x="53.2" y="336.6" fill="#dede60" stroke="#dede60" stroke-width="0.35" style="font-family:&quot;Liberation Mono&quot;,monospace;font-weight:normal;font-size:14px" textLength="56" lengthAdjust="spacingAndGlyphs">10.0mV</text><rect x="111.3" y="326.9" width="12.6" height="10.2" fill="#e8e41c"/><text x="117.6" y="335.8" fill="#333" text-anchor="middle" style="font-family:&quot;Liberation Mono&quot;,monospace;font-weight:bold;font-size:10px">B</text><rect x="274" y="323" width="121" height="17" rx="2" fill="#050505"/><text x="278.6" y="334.8" fill="#e8e8e8" stroke="#e8e8e8" stroke-width="0.35" style="font-family:&quot;Liberation Mono&quot;,monospace;font-weight:normal;font-size:13.5px" textLength="114" lengthAdjust="spacingAndGlyphs">Time 20.00ns</text><rect x="396.5" y="322" width="103" height="17.7" rx="2" fill="#060606"/><rect x="401.4" y="325.9" width="10.7" height="10.1" rx="4" fill="#f08a18"/><path d="M403.8,328.2 h6 v1.6 h-2.2 v4.6 h-1.6 v-4.6 h-2.2z" fill="#5a3000"/><path d="M412.7,331.2 h4.8 M415.3,329 v4.4" stroke="#e88a20" stroke-width="1.2" fill="none"/><text x="418.2" y="335.7" fill="#e88a20" stroke="#e88a20" stroke-width="0.3" style="font-family:&quot;Liberation Mono&quot;,monospace;font-weight:normal;font-size:13.5px" textLength="69.5" lengthAdjust="spacingAndGlyphs">35.20ns</text></svg><svg style="position:absolute;left:0;top:0" width="514" height="1601" viewBox="0 0 514 1601"><path d="M75.1,389.8 V715.6 H486.4" stroke="#222" stroke-width="1.6" fill="none"/><path d="M86.4,715.6 v-6 M126.4,715.6 v-3 M166.4,715.6 v-6 M206.4,715.6 v-3 M246.4,715.6 v-6 M286.4,715.6 v-3 M326.4,715.6 v-6 M366.4,715.6 v-3 M406.4,715.6 v-6 M446.4,715.6 v-3 M486.4,715.6 v-6 M75.1,715.6 h5 M75.1,679.5 h2.5 M75.1,643.3 h5 M75.1,607.1 h2.5 M75.1,571.0 h5 M75.1,534.9 h2.5 M75.1,498.7 h5 M75.1,462.6 h2.5 M75.1,426.4 h5 M75.1,390.2 h2.5" stroke="#222" stroke-width="1.3" fill="none"/><text x="86.4" y="738.5" text-anchor="middle" style="font-family:&quot;Liberation Serif&quot;,serif;font-size:19.5px" fill="#111">0</text><text x="166.4" y="738.5" text-anchor="middle" style="font-family:&quot;Liberation Serif&quot;,serif;font-size:19.5px" fill="#111">20</text><text x="246.4" y="738.5" text-anchor="middle" style="font-family:&quot;Liberation Serif&quot;,serif;font-size:19.5px" fill="#111">40</text><text x="326.4" y="738.5" text-anchor="middle" style="font-family:&quot;Liberation Serif&quot;,serif;font-size:19.5px" fill="#111">60</text><text x="406.4" y="738.5" text-anchor="middle" style="font-family:&quot;Liberation Serif&quot;,serif;font-size:19.5px" fill="#111">80</text><text x="486.4" y="738.5" text-anchor="middle" style="font-family:&quot;Liberation Serif&quot;,serif;font-size:19.5px" fill="#111">100</text><text x="67" y="721.9" text-anchor="end" style="font-family:&quot;Liberation Serif&quot;,serif;font-size:19.5px" fill="#111">20</text><rect x="37.8" y="714.3" width="10.5" height="1.9" fill="#222"/><text x="67" y="649.6" text-anchor="end" style="font-family:&quot;Liberation Serif&quot;,serif;font-size:19.5px" fill="#111">10</text><rect x="37.8" y="642.0" width="10.5" height="1.9" fill="#222"/><text x="67" y="577.3" text-anchor="end" style="font-family:&quot;Liberation Serif&quot;,serif;font-size:19.5px" fill="#111">0</text><text x="67" y="505.0" text-anchor="end" style="font-family:&quot;Liberation Serif&quot;,serif;font-size:19.5px" fill="#111">10</text><text x="67" y="432.7" text-anchor="end" style="font-family:&quot;Liberation Serif&quot;,serif;font-size:19.5px" fill="#111">20</text><polyline points="86.0,571.0 87.0,540.0 89.0,510.0 91.0,484.0 93.0,462.0 95.0,444.0 99.0,435.0 102.0,446.0 104.0,460.0 107.0,480.0 110.0,500.0 113.0,520.0 115.0,540.0 118.0,560.0 120.0,580.0 121.0,600.0 123.0,620.0 124.0,640.0 126.0,666.0 129.0,660.0 133.0,652.0 135.0,630.0 137.0,610.0 139.0,580.0 141.0,560.0 143.0,540.0 145.0,520.0 149.0,500.0 153.0,480.0 158.0,466.0 166.0,460.0 170.0,482.0 177.8,527.0 183.6,567.9 188.5,599.0 193.3,630.0 200.2,612.6 206.0,591.2 211.8,560.0 216.7,536.7 221.0,515.3 226.4,519.2 234.2,544.5 240.0,571.7 245.9,599.0 251.7,609.7 257.5,609.7 265.0,604.1 270.3,587.0 274.6,563.5 280.0,539.9 285.3,531.4 290.7,523.9 297.1,533.5 304.6,552.8 310.0,578.4 315.3,600.9 320.6,597.7 329.2,574.2 337.8,550.6 343.1,529.2 350.6,524.9 361.3,533.5 367.7,548.5 370.0,561.7 375.8,594.4 381.7,613.1 388.0,618.0 393.3,615.4 400.4,609.6 405.0,592.1 410.9,571.1 414.4,547.7 416.7,536.0 426.0,533.7 435.4,540.7 444.7,564.0 452.9,573.4 461.0,582.7 468.0,583.9 477.4,575.7 484.4,566.4 486.0,564.0" stroke="#36679f" stroke-width="2.4" fill="none" stroke-dasharray="10 8.5" stroke-linejoin="round"/><polyline points="86.5,561.0 86.5,428.0 88.5,421.0 92.4,415.0 95.5,424.0 99.0,436.0 104.0,460.0 107.0,490.0 110.0,520.0 115.0,570.0 119.0,620.0 123.0,660.0 127.6,699.0 132.4,693.0 135.0,660.0 138.0,620.0 142.0,572.0 146.0,520.0 151.0,476.0 156.0,456.0 160.0,445.0 164.0,438.0 168.0,449.0 170.0,459.0 173.9,484.2 179.7,540.6 184.6,581.5 188.5,604.8 191.4,631.1 196.3,637.9 204.0,606.8 210.9,560.0 215.7,529.0 218.6,519.2 224.1,507.5 230.3,517.3 236.1,540.6 241.0,575.6 246.8,614.5 251.7,624.3 255.6,634.0 260.5,631.1 265.0,619.1 269.3,599.8 274.6,561.3 280.0,533.5 285.3,516.4 290.7,516.4 295.0,525.0 300.3,546.3 305.7,578.4 311.0,619.1 315.3,634.1 319.6,645.8 328.1,625.5 333.5,591.3 338.8,552.8 343.1,522.8 346.0,510.5 350.0,503.0 353.8,499.3 357.0,500.3 363.4,518.5 367.7,544.2 370.0,550.0 374.7,580.4 378.2,601.4 382.8,622.4 387.5,634.1 392.2,632.9 395.7,631.8 399.2,610.7 405.0,585.0 410.9,557.0 415.5,533.7 420.2,522.0 424.9,519.2 429.5,523.2 434.2,531.4 440.0,547.7 444.7,559.4 448.2,571.1 451.7,572.2 455.2,582.7 461.0,582.7 468.0,587.4 470.4,583.9 476.2,582.7 478.6,575.7 484.4,564.0 486.0,562.0" stroke="#ee1a1a" stroke-width="1.3" fill="none" stroke-linejoin="round"/><path d="M197.7,406.6 H258.5" stroke="#d84040" stroke-width="1.4"/><path d="M197.7,436.90000000000003 H258.5" stroke="#222" stroke-width="1.5" stroke-dasharray="11.7 4.6"/><text x="263.5" y="414.6" style="font-family:&quot;Liberation Serif&quot;,serif;font-size:21px" fill="#111">Measured</text><text x="263.5" y="444.40000000000003" style="font-family:&quot;Liberation Serif&quot;,serif;font-size:21px" fill="#111">Calculated</text><text x="242.2" y="765.7" style="font-family:&quot;Liberation Serif&quot;,serif;font-size:21px" fill="#111" xml:space="preserve">Time  (ns)</text><text transform="translate(28,686.4) rotate(-90)" x="0" y="0" style="font-family:&quot;Liberation Serif&quot;,serif;font-size:21px" fill="#111" textLength="274.5" lengthAdjust="spacing" xml:space="preserve">Induced voltage in loop 1  (mV)</text><text x="242.3" y="800.3" style="font-family:&quot;Liberation Serif&quot;,serif;font-size:25px" fill="#111">(<tspan font-weight="bold">a</tspan>)</text><path d="M74.4,1178.8 V1504.0 H489.8" stroke="#222" stroke-width="1.6" fill="none"/><path d="M92.9,1504.0 v-6 M132.6,1504.0 v-3 M172.3,1504.0 v-6 M212.0,1504.0 v-3 M251.7,1504.0 v-6 M291.4,1504.0 v-3 M331.0,1504.0 v-6 M370.7,1504.0 v-3 M410.4,1504.0 v-6 M450.1,1504.0 v-3 M489.8,1504.0 v-6 M74.4,1504.0 h5 M74.4,1474.4 h2.5 M74.4,1444.8 h5 M74.4,1415.3 h2.5 M74.4,1385.7 h5 M74.4,1356.1 h2.5 M74.4,1326.6 h5 M74.4,1297.0 h2.5 M74.4,1267.4 h5 M74.4,1237.9 h2.5 M74.4,1208.3 h5 M74.4,1178.7 h2.5" stroke="#222" stroke-width="1.3" fill="none"/><text x="92.9" y="1524.0" text-anchor="middle" style="font-family:&quot;Liberation Serif&quot;,serif;font-size:18.2px" fill="#111">0</text><text x="172.3" y="1524.0" text-anchor="middle" style="font-family:&quot;Liberation Serif&quot;,serif;font-size:18.2px" fill="#111">20</text><text x="251.7" y="1524.0" text-anchor="middle" style="font-family:&quot;Liberation Serif&quot;,serif;font-size:18.2px" fill="#111">40</text><text x="331.0" y="1524.0" text-anchor="middle" style="font-family:&quot;Liberation Serif&quot;,serif;font-size:18.2px" fill="#111">60</text><text x="410.4" y="1524.0" text-anchor="middle" style="font-family:&quot;Liberation Serif&quot;,serif;font-size:18.2px" fill="#111">80</text><text x="489.8" y="1524.0" text-anchor="middle" style="font-family:&quot;Liberation Serif&quot;,serif;font-size:18.2px" fill="#111">100</text><text x="66.8" y="1510.0" text-anchor="end" style="font-family:&quot;Liberation Serif&quot;,serif;font-size:18.2px" fill="#111">20</text><rect x="37.0" y="1502.7" width="10.2" height="1.9" fill="#222"/><text x="66.8" y="1450.8" text-anchor="end" style="font-family:&quot;Liberation Serif&quot;,serif;font-size:18.2px" fill="#111">10</text><rect x="37.0" y="1443.5" width="10.2" height="1.9" fill="#222"/><text x="66.8" y="1391.7" text-anchor="end" style="font-family:&quot;Liberation Serif&quot;,serif;font-size:18.2px" fill="#111">0</text><text x="66.8" y="1332.6" text-anchor="end" style="font-family:&quot;Liberation Serif&quot;,serif;font-size:18.2px" fill="#111">10</text><text x="66.8" y="1273.4" text-anchor="end" style="font-family:&quot;Liberation Serif&quot;,serif;font-size:18.2px" fill="#111">20</text><text x="66.8" y="1214.3" text-anchor="end" style="font-family:&quot;Liberation Serif&quot;,serif;font-size:18.2px" fill="#111">30</text><polyline points="93.1,1385.4 95.1,1343.4 97.0,1321.1 98.4,1301.5 99.4,1281.8 101.0,1262.1 102.3,1242.5 104.3,1226.7 105.6,1220.2 107.5,1238.0 111.3,1263.9 116.1,1299.0 121.0,1337.9 125.9,1374.8 131.7,1400.1 136.6,1437.1 141.0,1476.0 145.3,1466.3 150.2,1433.2 154.1,1394.3 158.0,1355.4 161.3,1316.5 164.8,1295.1 169.6,1283.4 174.5,1279.5 180.8,1303.7 186.7,1343.4 192.5,1376.1 198.3,1408.8 204.2,1418.1 211.0,1427.0 218.2,1404.1 222.9,1385.4 227.5,1362.0 231.0,1352.7 238.0,1357.4 245.0,1369.1 252.0,1390.1 257.9,1411.1 263.7,1427.4 270.7,1446.1 275.4,1429.8 282.4,1401.8 289.4,1380.7 294.3,1363.5 301.8,1356.0 307.1,1367.8 313.5,1384.9 321.0,1406.3 327.4,1427.7 334.9,1441.6 340.3,1427.7 345.6,1402.0 349.9,1380.6 354.2,1365.6 363.8,1353.9 372.4,1360.3 382.0,1366.7 388.4,1380.6 396.4,1398.8 401.8,1410.6 407.1,1403.1 412.5,1393.5 416.7,1384.9 422.1,1377.4 427.4,1371.0 432.8,1362.5 442.4,1359.7 447.8,1355.0 454.2,1358.2 458.5,1361.4 463.8,1370.0 470.2,1377.4 476.7,1383.9 485.2,1384.5" stroke="#36679f" stroke-width="2.4" fill="none" stroke-dasharray="10 8.5" stroke-linejoin="round"/><polyline points="93.1,1376.0 93.1,1263.4 94.7,1238.6 97.6,1213.3 101.0,1201.5 104.5,1209.5 107.4,1228.9 110.3,1260.0 115.2,1299.0 121.0,1334.0 125.9,1376.8 130.7,1404.0 134.6,1442.9 140.4,1488.6 145.3,1488.6 149.2,1458.5 154.1,1404.0 158.0,1349.5 161.8,1314.5 163.8,1295.1 167.7,1275.6 172.2,1269.4 176.4,1275.6 179.7,1285.0 185.5,1320.0 191.3,1362.0 197.2,1399.4 203.0,1427.4 208.9,1448.5 217.0,1432.1 221.7,1394.8 226.4,1362.0 231.0,1350.4 236.9,1341.1 242.7,1348.1 248.5,1366.7 254.4,1394.8 259.0,1425.1 266.0,1443.8 273.1,1449.6 281.2,1427.4 287.1,1390.1 290.0,1378.5 294.3,1361.4 299.6,1350.7 303.9,1350.2 308.2,1361.4 313.5,1382.8 318.9,1404.2 324.2,1427.7 329.6,1447.0 334.9,1456.6 341.4,1432.0 345.6,1399.9 349.9,1372.1 354.2,1346.4 359.5,1337.8 364.9,1342.1 370.2,1349.6 374.5,1351.7 377.7,1358.1 382.0,1361.4 386.3,1374.2 390.0,1381.7 394.3,1395.6 398.6,1408.5 402.4,1416.0 406.7,1413.8 410.3,1406.3 414.6,1391.4 420.0,1378.5 425.3,1367.8 429.6,1362.5 433.9,1357.1 439.2,1356.7 442.4,1352.4 446.7,1353.9 449.9,1352.4 454.2,1352.4 457.4,1361.4 461.7,1362.5 463.8,1367.8 466.0,1378.5 470.2,1378.5 472.4,1379.6 474.5,1378.1 477.7,1383.9 485.2,1384.5 487.4,1383.4 489.5,1383.4" stroke="#f04a4a" stroke-width="1.0" fill="none" stroke-linejoin="round"/><path d="M197.7,1191.5 H258.5" stroke="#d84040" stroke-width="1.4"/><path d="M197.7,1221.8 H258.5" stroke="#222" stroke-width="1.5" stroke-dasharray="11.7 4.6"/><text x="263.5" y="1199.5" style="font-family:&quot;Liberation Serif&quot;,serif;font-size:21px" fill="#111">Measured</text><text x="263.5" y="1229.3" style="font-family:&quot;Liberation Serif&quot;,serif;font-size:21px" fill="#111">Calculated</text><text x="248.6" y="1554.9" style="font-family:&quot;Liberation Serif&quot;,serif;font-size:21px" fill="#111" xml:space="preserve">Time  (ns)</text><text transform="translate(27.7,1476.4) rotate(-90)" x="0" y="0" style="font-family:&quot;Liberation Serif&quot;,serif;font-size:21px" fill="#111" textLength="288.4" lengthAdjust="spacing" xml:space="preserve">Induced voltage in loop 2 (mV)</text><text x="241.3" y="1585.6" style="font-family:&quot;Liberation Serif&quot;,serif;font-size:25px" fill="#111">(<tspan font-weight="bold">b</tspan>)</text></svg></body></html>
